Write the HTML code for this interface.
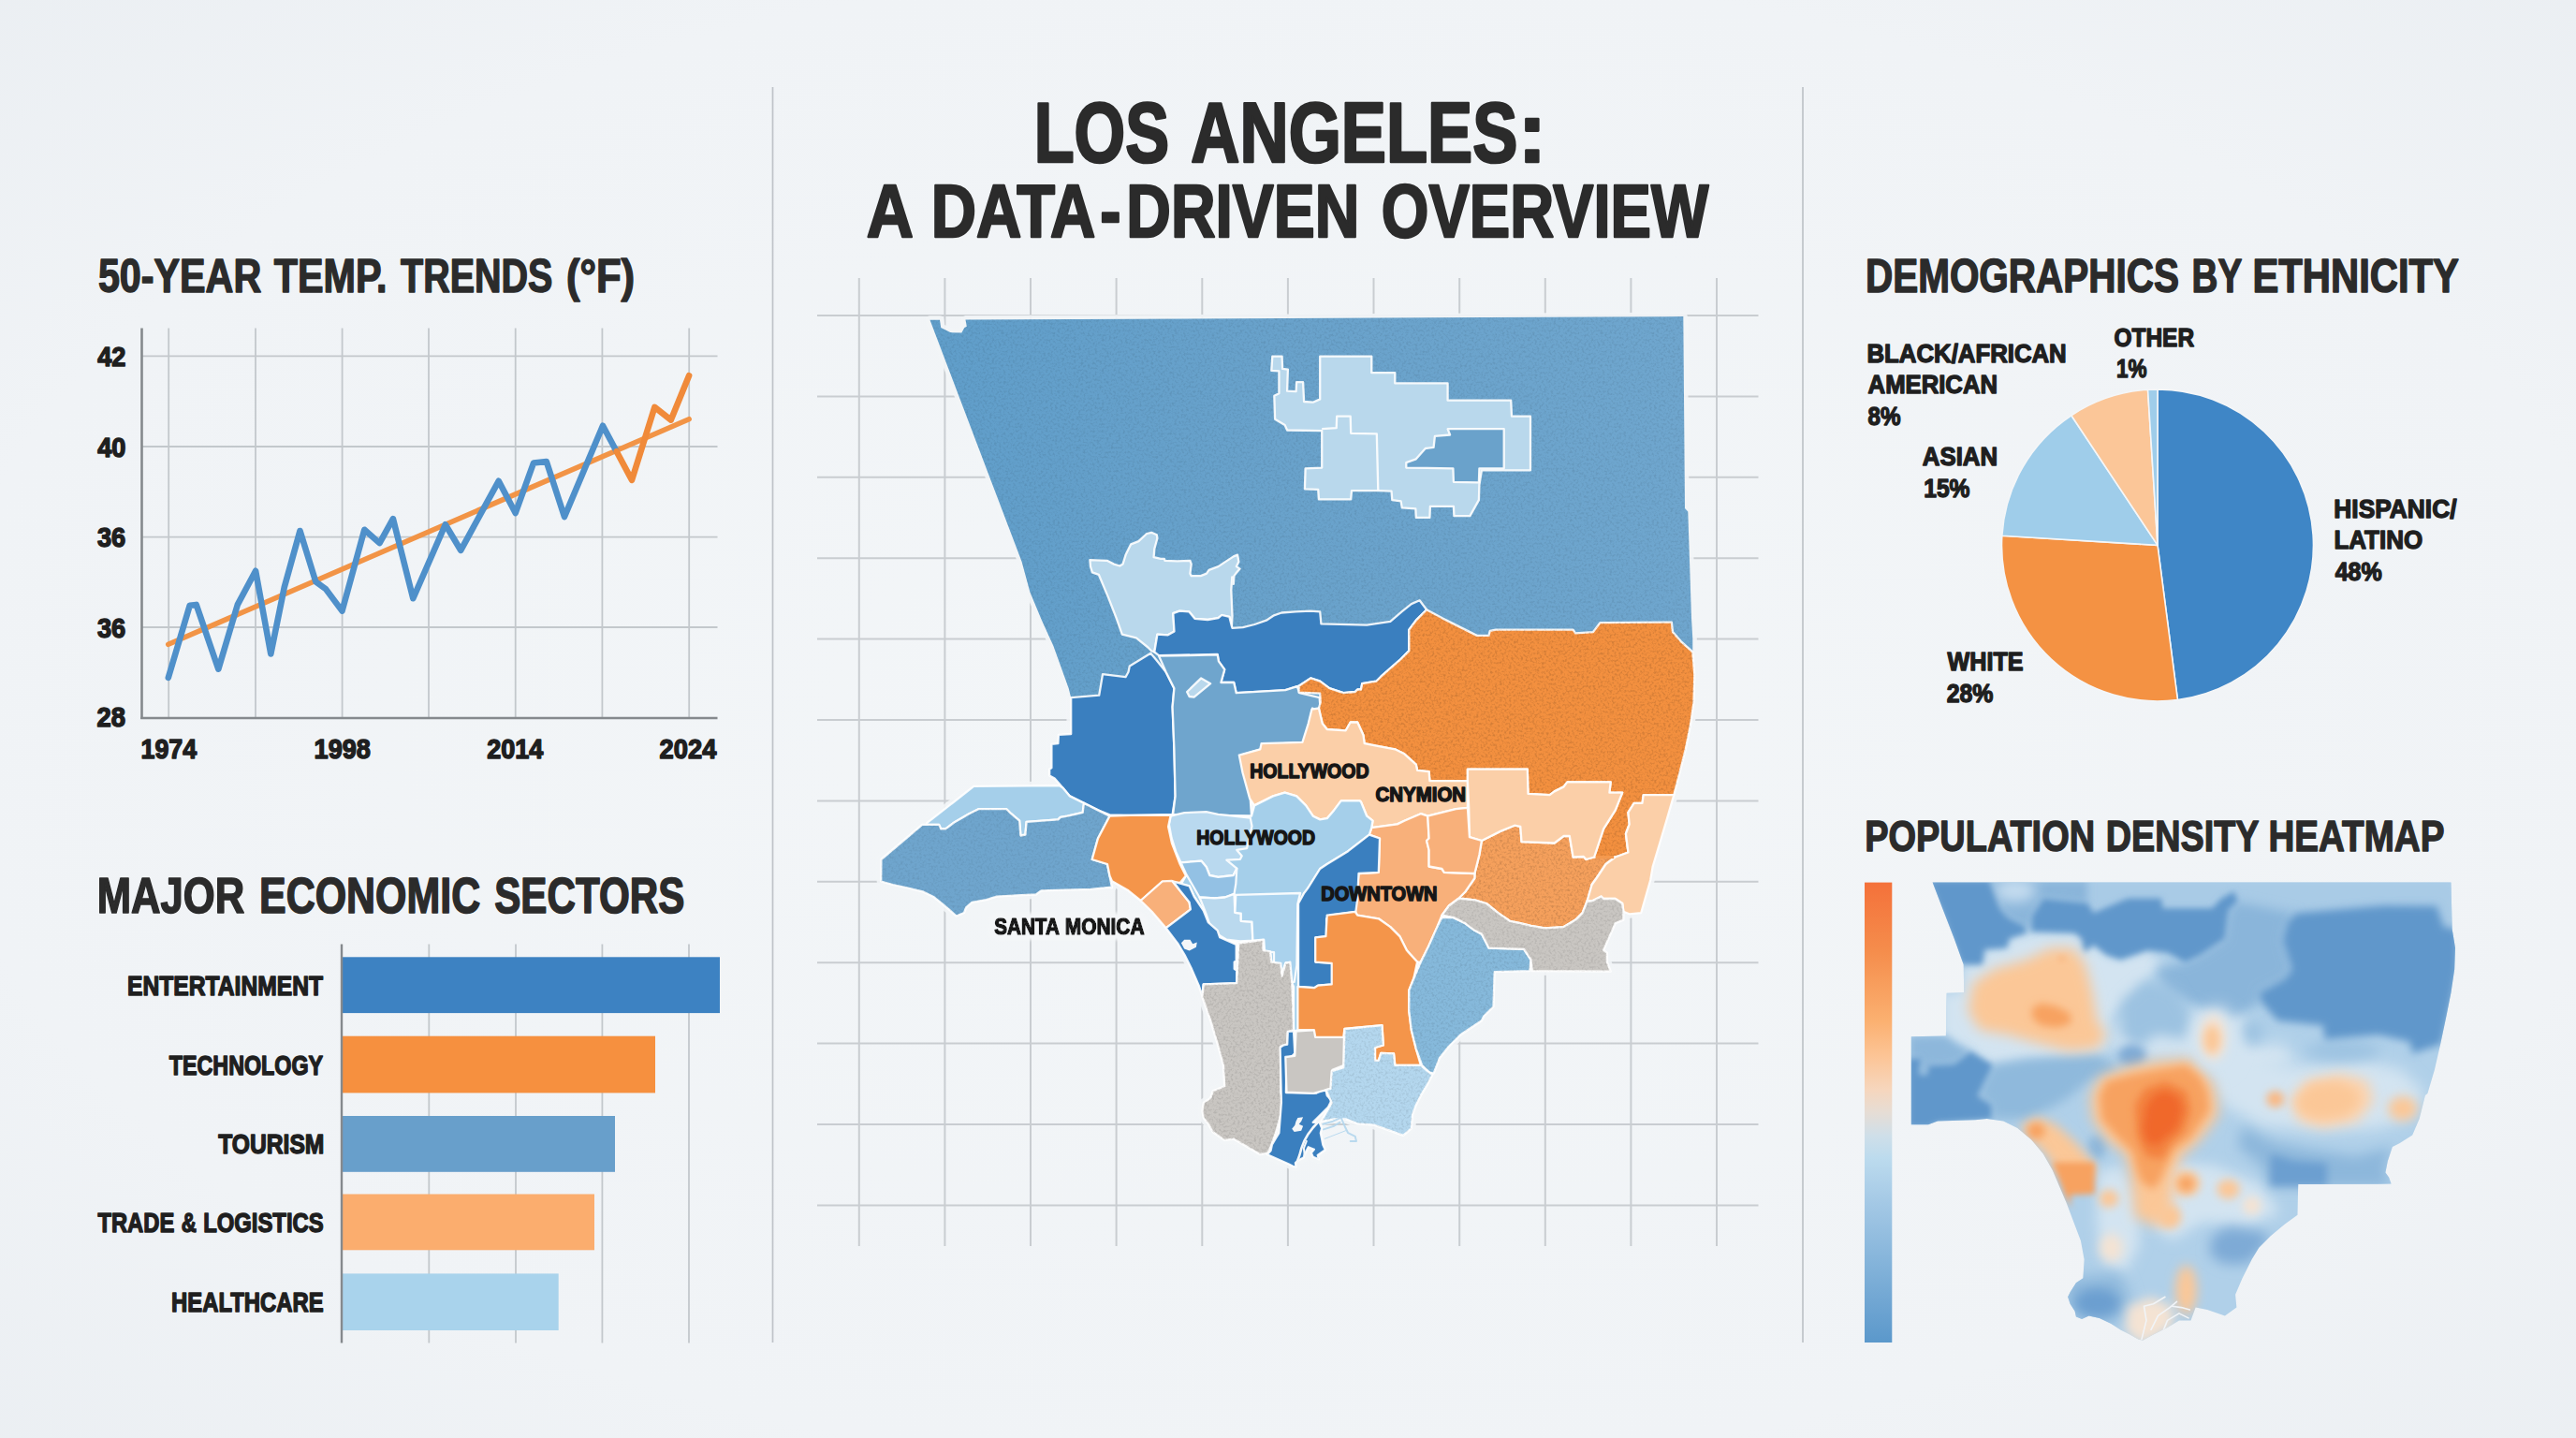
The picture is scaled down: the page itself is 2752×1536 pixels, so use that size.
<!DOCTYPE html>
<html lang="en"><head><meta charset="utf-8"><title>Los Angeles: A Data-Driven Overview</title>
<style>html,body{margin:0;padding:0;background:#f0f3f6;overflow:hidden;}svg{display:block;}text{font-family:'Liberation Sans', 'DejaVu Sans', sans-serif;font-weight:700;font-kerning:normal;}</style></head><body>
<svg width="2752" height="1536" viewBox="0 0 2752 1536">
<defs>
<radialGradient id="bg" cx="50%" cy="50%" r="75%"><stop offset="0" stop-color="#f3f6f8"/><stop offset="0.7" stop-color="#f0f3f6"/><stop offset="1" stop-color="#eaeef2"/></radialGradient>
<linearGradient id="cbar" x1="0" y1="0" x2="0" y2="1"><stop offset="0" stop-color="#f4713a"/><stop offset="0.15" stop-color="#f58d4c"/><stop offset="0.3" stop-color="#fbb070"/><stop offset="0.38" stop-color="#fcc597"/><stop offset="0.45" stop-color="#f6d6bd"/><stop offset="0.5" stop-color="#e6ddd5"/><stop offset="0.55" stop-color="#cfdfe9"/><stop offset="0.6" stop-color="#bcdbee"/><stop offset="0.7" stop-color="#a3c8e5"/><stop offset="0.85" stop-color="#7fb0d8"/><stop offset="1" stop-color="#5b98cb"/></linearGradient>
<clipPath id="hclip"><path d="M2064.6,942.5 L2618.5,942.5 L2619.7,992.6 L2623.0,1012.6 L2622.2,1035.2 L2618.5,1060.2 L2613.5,1085.2 L2607.2,1115.3 L2600.9,1142.8 L2593.4,1167.9 L2590.9,1170.0 L2584.7,1195.0 L2577.2,1212.6 L2563.4,1221.3 L2555.9,1225.1 L2550.9,1240.1 L2548.4,1252.6 L2552.1,1257.6 L2554.6,1264.6 L2455.2,1265.1 L2454.5,1297.7 L2440.7,1307.7 L2425.7,1320.2 L2413.2,1332.8 L2405.6,1345.3 L2395.6,1365.3 L2388.1,1382.8 L2389.4,1396.6 L2376.9,1405.4 L2358.1,1399.1 L2345.6,1396.6 L2340.5,1410.4 L2328.0,1410.4 L2315.5,1417.9 L2300.5,1425.4 L2289.2,1431.7 L2284.2,1430.4 L2275.4,1425.4 L2265.4,1420.4 L2255.4,1414.1 L2242.9,1407.9 L2231.6,1405.4 L2224.1,1409.1 L2217.9,1406.6 L2216.6,1400.4 L2211.6,1392.8 L2209.1,1385.3 L2211.6,1380.3 L2217.9,1370.3 L2225.4,1365.3 L2226.6,1345.3 L2222.9,1325.2 L2215.3,1305.2 L2207.8,1285.2 L2200.3,1267.7 L2192.8,1250.1 L2182.8,1232.6 L2170.3,1217.6 L2155.3,1205.1 L2140.2,1197.5 L2122.7,1195.0 L2110.2,1196.3 L2070.1,1197.5 L2060.1,1201.3 L2041.8,1201.3 L2041.8,1107.3 L2078.9,1106.5 L2079.6,1060.7 L2098.2,1060.2 L2097.7,1030.2 L2087.7,1002.6 L2075.1,970.1Z"/></clipPath>
<filter id="hb3" x="-50%" y="-50%" width="200%" height="200%"><feGaussianBlur stdDeviation="3"/></filter>
<filter id="hb4" x="-50%" y="-50%" width="200%" height="200%"><feGaussianBlur stdDeviation="4"/></filter>
<filter id="hb5" x="-50%" y="-50%" width="200%" height="200%"><feGaussianBlur stdDeviation="5"/></filter>
<filter id="hb6" x="-50%" y="-50%" width="200%" height="200%"><feGaussianBlur stdDeviation="6"/></filter>
<filter id="hb7" x="-50%" y="-50%" width="200%" height="200%"><feGaussianBlur stdDeviation="7"/></filter>
<filter id="hb8" x="-50%" y="-50%" width="200%" height="200%"><feGaussianBlur stdDeviation="8"/></filter>
<filter id="tex" x="0" y="0" width="100%" height="100%" color-interpolation-filters="sRGB"><feTurbulence type="fractalNoise" baseFrequency="0.4" numOctaves="2" seed="7" result="n"/><feColorMatrix in="n" type="matrix" values="0 0 0 0 0  0 0 0 0 0  0 0 0 0 0  3.2 0 0 0 -1.45" result="a"/><feComposite in="a" in2="SourceGraphic" operator="in"/></filter><filter id="halo" x="-10%" y="-40%" width="120%" height="180%"><feMorphology in="SourceAlpha" operator="dilate" radius="3.5" result="d"/><feGaussianBlur in="d" stdDeviation="2" result="b"/><feFlood flood-color="#f4f6f8" result="f"/><feComposite in="f" in2="b" operator="in" result="h"/><feMerge><feMergeNode in="h"/><feMergeNode in="h"/><feMergeNode in="SourceGraphic"/></feMerge></filter><linearGradient id="baseg" gradientUnits="userSpaceOnUse" x1="1000" y1="0" x2="1800" y2="0"><stop offset="0" stop-color="#609eca"/><stop offset="0.45" stop-color="#69a2cb"/><stop offset="1" stop-color="#6fa6ce"/></linearGradient>
</defs>
<rect width="2752" height="1536" fill="url(#bg)"/>
<g stroke="#bfc3c8" stroke-width="1.7">
<line x1="825.5" y1="93" x2="825.5" y2="1434"/>
<line x1="1926" y1="93" x2="1926" y2="1434"/>
</g>
<text y="172.93" font-size="90.93" fill="#2b2b2b" stroke="#2b2b2b" stroke-width="2.74" stroke-linejoin="round"><tspan x="1104.67" textLength="144.30" lengthAdjust="spacingAndGlyphs">LOS</tspan> <tspan x="1272.37" textLength="349.08" lengthAdjust="spacingAndGlyphs">ANGELES</tspan><tspan x="1621.64" textLength="30.22" lengthAdjust="spacingAndGlyphs">:</tspan></text>
<text y="252.99" font-size="79.78" fill="#2b2b2b" stroke="#2b2b2b" stroke-width="2.41" stroke-linejoin="round"><tspan x="925.76" textLength="47.57" lengthAdjust="spacingAndGlyphs">A</tspan> <tspan x="994.74" textLength="175.62" lengthAdjust="spacingAndGlyphs">DATA</tspan><tspan x="1175.19" textLength="22.28" lengthAdjust="spacingAndGlyphs">-</tspan><tspan x="1203.30" textLength="248.94" lengthAdjust="spacingAndGlyphs">DRIVEN</tspan> <tspan x="1475.84" textLength="349.52" lengthAdjust="spacingAndGlyphs">OVERVIEW</tspan></text>
<text y="311.85" font-size="50.13" fill="#2b2b2b" stroke="#2b2b2b" stroke-width="1.51" stroke-linejoin="round"><tspan x="104.89" textLength="174.31" lengthAdjust="spacingAndGlyphs">50-YEAR</tspan> <tspan x="292.69" textLength="120.90" lengthAdjust="spacingAndGlyphs">TEMP.</tspan> <tspan x="428.01" textLength="162.38" lengthAdjust="spacingAndGlyphs">TRENDS</tspan> <tspan x="604.88" textLength="73.24" lengthAdjust="spacingAndGlyphs">(°F)</tspan></text>
<g stroke="#c3c8cc" stroke-width="1.8">
<line x1="180.2" y1="350.5" x2="180.2" y2="766.8"/>
<line x1="273" y1="350.5" x2="273" y2="766.8"/>
<line x1="365.6" y1="350.5" x2="365.6" y2="766.8"/>
<line x1="458" y1="350.5" x2="458" y2="766.8"/>
<line x1="550.7" y1="350.5" x2="550.7" y2="766.8"/>
<line x1="643.4" y1="350.5" x2="643.4" y2="766.8"/>
<line x1="736.2" y1="350.5" x2="736.2" y2="766.8"/>
<line x1="151.5" y1="380.4" x2="766.5" y2="380.4"/>
<line x1="151.5" y1="477" x2="766.5" y2="477"/>
<line x1="151.5" y1="573.6" x2="766.5" y2="573.6"/>
<line x1="151.5" y1="670" x2="766.5" y2="670"/>
</g>
<g stroke="#85898d" stroke-width="2.6">
<line x1="151.5" y1="350.5" x2="151.5" y2="768"/>
<line x1="150.2" y1="767" x2="766.5" y2="767"/>
</g>
<text x="104.14" y="390.85" font-size="29.80" textLength="30.20" lengthAdjust="spacingAndGlyphs" fill="#1f1f1f" stroke="#1f1f1f" stroke-width="1.5" stroke-linejoin="round" >42</text>
<text x="104.14" y="487.65" font-size="29.80" textLength="30.23" lengthAdjust="spacingAndGlyphs" fill="#1f1f1f" stroke="#1f1f1f" stroke-width="1.5" stroke-linejoin="round" >40</text>
<text x="103.92" y="584.05" font-size="29.80" textLength="30.31" lengthAdjust="spacingAndGlyphs" fill="#1f1f1f" stroke="#1f1f1f" stroke-width="1.5" stroke-linejoin="round" >36</text>
<text x="103.92" y="681.25" font-size="29.80" textLength="30.31" lengthAdjust="spacingAndGlyphs" fill="#1f1f1f" stroke="#1f1f1f" stroke-width="1.5" stroke-linejoin="round" >36</text>
<text x="103.60" y="776.25" font-size="29.80" textLength="30.49" lengthAdjust="spacingAndGlyphs" fill="#1f1f1f" stroke="#1f1f1f" stroke-width="1.5" stroke-linejoin="round" >28</text>
<text x="150.54" y="810.27" font-size="29.13" textLength="59.67" lengthAdjust="spacingAndGlyphs" fill="#1f1f1f" stroke="#1f1f1f" stroke-width="1.46" stroke-linejoin="round" >1974</text>
<text x="335.62" y="810.27" font-size="29.13" textLength="60.28" lengthAdjust="spacingAndGlyphs" fill="#1f1f1f" stroke="#1f1f1f" stroke-width="1.46" stroke-linejoin="round" >1998</text>
<text x="520.19" y="810.27" font-size="29.13" textLength="60.22" lengthAdjust="spacingAndGlyphs" fill="#1f1f1f" stroke="#1f1f1f" stroke-width="1.46" stroke-linejoin="round" >2014</text>
<text x="704.58" y="810.27" font-size="29.13" textLength="60.83" lengthAdjust="spacingAndGlyphs" fill="#1f1f1f" stroke="#1f1f1f" stroke-width="1.46" stroke-linejoin="round" >2024</text>
<line x1="179.8" y1="688.3" x2="736.1" y2="447.7" stroke="#f29446" stroke-width="5.6" stroke-linecap="round"/>
<polyline fill="none" stroke="#4f90ca" stroke-width="6.6" stroke-linejoin="round" stroke-linecap="round" points="179.8,723.9 202.7,646.8 209.7,645.9 233.3,714.7 253.8,645.9 273.1,609.8 289.3,698.5 303.7,627.5 320.5,567 337.3,621.4 348,629.1 365.5,652.6 389.3,565.8 405.5,580.1 419.9,554.1 441.3,639.2 475.8,560.3 492.2,587.8 532.7,513.8 550.7,548 570,494.5 583.8,493 603,552 644,454.7 658.7,482.2"/>
<polyline fill="none" stroke="#f08a3a" stroke-width="6.6" stroke-linejoin="round" stroke-linecap="round" points="658.7,482.2 675,512.8 699.4,434.8 716.8,448.6 736.1,401.2"/>
<text y="974.50" font-size="52.91" fill="#2b2b2b" stroke="#2b2b2b" stroke-width="1.6" stroke-linejoin="round"><tspan x="103.78" textLength="157.51" lengthAdjust="spacingAndGlyphs">MAJOR</tspan> <tspan x="277.03" textLength="236.15" lengthAdjust="spacingAndGlyphs">ECONOMIC</tspan> <tspan x="528.18" textLength="203.16" lengthAdjust="spacingAndGlyphs">SECTORS</tspan></text>
<g stroke="#c3c8cc" stroke-width="1.8">
<line x1="458.3" y1="1008.6" x2="458.3" y2="1434.5"/>
<line x1="551" y1="1008.6" x2="551" y2="1434.5"/>
<line x1="643.4" y1="1008.6" x2="643.4" y2="1434.5"/>
<line x1="736" y1="1008.6" x2="736" y2="1434.5"/>
</g>
<rect x="366" y="1022.3" width="403.0" height="59.8" fill="#3d82c2"/>
<text x="136.00" y="1063.25" font-size="29.80" textLength="209.01" lengthAdjust="spacingAndGlyphs" fill="#1f1f1f" stroke="#1f1f1f" stroke-width="1.5" stroke-linejoin="round" >ENTERTAINMENT</text>
<rect x="366" y="1106.7" width="334.0" height="60.7" fill="#f6903f"/>
<text x="180.69" y="1147.55" font-size="29.80" textLength="164.44" lengthAdjust="spacingAndGlyphs" fill="#1f1f1f" stroke="#1f1f1f" stroke-width="1.5" stroke-linejoin="round" >TECHNOLOGY</text>
<rect x="366" y="1192" width="291.0" height="59.8" fill="#689fcb"/>
<text x="233.17" y="1231.95" font-size="29.80" textLength="113.23" lengthAdjust="spacingAndGlyphs" fill="#1f1f1f" stroke="#1f1f1f" stroke-width="1.5" stroke-linejoin="round" >TOURISM</text>
<rect x="366" y="1275.5" width="269.0" height="59.8" fill="#fbad6e"/>
<text y="1316.25" font-size="29.80" fill="#1f1f1f" stroke="#1f1f1f" stroke-width="1.5" stroke-linejoin="round"><tspan x="104.48" textLength="81.79" lengthAdjust="spacingAndGlyphs">TRADE</tspan> <tspan x="193.67" textLength="16.19" lengthAdjust="spacingAndGlyphs">&amp;</tspan> <tspan x="217.15" textLength="128.53" lengthAdjust="spacingAndGlyphs">LOGISTICS</tspan></text>
<rect x="366" y="1360.4" width="230.7" height="60.6" fill="#a9d3ec"/>
<text x="183.05" y="1400.75" font-size="29.80" textLength="162.63" lengthAdjust="spacingAndGlyphs" fill="#1f1f1f" stroke="#1f1f1f" stroke-width="1.5" stroke-linejoin="round" >HEALTHCARE</text>
<line x1="365" y1="1008.6" x2="365" y2="1434.5" stroke="#85898d" stroke-width="2.4"/>
<text y="311.75" font-size="49.86" fill="#2b2b2b" stroke="#2b2b2b" stroke-width="1.5" stroke-linejoin="round"><tspan x="1992.94" textLength="335.09" lengthAdjust="spacingAndGlyphs">DEMOGRAPHICS</tspan> <tspan x="2341.50" textLength="52.96" lengthAdjust="spacingAndGlyphs">BY</tspan> <tspan x="2406.46" textLength="220.47" lengthAdjust="spacingAndGlyphs">ETHNICITY</tspan></text>
<path d="M2305,582.4 L2305.00,415.90 A166.5,166.5 0 0 1 2326.44,747.51 Z" fill="#3f86c6" stroke="#f4f6f8" stroke-width="1.6" stroke-linejoin="round"/>
<path d="M2305,582.4 L2326.44,747.51 A166.5,166.5 0 0 1 2138.81,572.24 Z" fill="#f49243" stroke="#f4f6f8" stroke-width="1.6" stroke-linejoin="round"/>
<path d="M2305,582.4 L2138.81,572.24 A166.5,166.5 0 0 1 2212.86,443.72 Z" fill="#9fcdea" stroke="#f4f6f8" stroke-width="1.6" stroke-linejoin="round"/>
<path d="M2305,582.4 L2212.86,443.72 A166.5,166.5 0 0 1 2294.55,416.23 Z" fill="#fbc698" stroke="#f4f6f8" stroke-width="1.6" stroke-linejoin="round"/>
<path d="M2305,582.4 L2294.55,416.23 A166.5,166.5 0 0 1 2305.00,415.90 Z" fill="#9fcdea" stroke="#f4f6f8" stroke-width="1.6" stroke-linejoin="round"/>
<text x="1994.49" y="387.19" font-size="28.45" textLength="213.23" lengthAdjust="spacingAndGlyphs" fill="#1f1f1f" stroke="#1f1f1f" stroke-width="1.43" stroke-linejoin="round" >BLACK/AFRICAN</text>
<text x="1995.58" y="419.99" font-size="28.45" textLength="138.44" lengthAdjust="spacingAndGlyphs" fill="#1f1f1f" stroke="#1f1f1f" stroke-width="1.43" stroke-linejoin="round" >AMERICAN</text>
<text x="1995.43" y="453.91" font-size="27.78" textLength="35.02" lengthAdjust="spacingAndGlyphs" fill="#1f1f1f" stroke="#1f1f1f" stroke-width="1.39" stroke-linejoin="round" >8%</text>
<text x="2258.39" y="370.31" font-size="27.78" textLength="85.72" lengthAdjust="spacingAndGlyphs" fill="#1f1f1f" stroke="#1f1f1f" stroke-width="1.39" stroke-linejoin="round" >OTHER</text>
<text x="2261.08" y="402.61" font-size="27.78" textLength="32.52" lengthAdjust="spacingAndGlyphs" fill="#1f1f1f" stroke="#1f1f1f" stroke-width="1.39" stroke-linejoin="round" >1%</text>
<text x="2053.87" y="497.29" font-size="28.45" textLength="80.15" lengthAdjust="spacingAndGlyphs" fill="#1f1f1f" stroke="#1f1f1f" stroke-width="1.43" stroke-linejoin="round" >ASIAN</text>
<text x="2055.25" y="530.70" font-size="27.78" textLength="49.21" lengthAdjust="spacingAndGlyphs" fill="#1f1f1f" stroke="#1f1f1f" stroke-width="1.39" stroke-linejoin="round" >15%</text>
<text x="2493.35" y="553.28" font-size="28.45" textLength="131.19" lengthAdjust="spacingAndGlyphs" fill="#1f1f1f" stroke="#1f1f1f" stroke-width="1.43" stroke-linejoin="round" >HISPANIC/</text>
<text x="2493.38" y="585.99" font-size="28.45" textLength="94.80" lengthAdjust="spacingAndGlyphs" fill="#1f1f1f" stroke="#1f1f1f" stroke-width="1.43" stroke-linejoin="round" >LATINO</text>
<text x="2494.72" y="619.50" font-size="27.78" textLength="50.05" lengthAdjust="spacingAndGlyphs" fill="#1f1f1f" stroke="#1f1f1f" stroke-width="1.39" stroke-linejoin="round" >48%</text>
<text x="2080.49" y="715.88" font-size="28.45" textLength="81.08" lengthAdjust="spacingAndGlyphs" fill="#1f1f1f" stroke="#1f1f1f" stroke-width="1.43" stroke-linejoin="round" >WHITE</text>
<text x="2079.63" y="750.10" font-size="27.78" textLength="49.73" lengthAdjust="spacingAndGlyphs" fill="#1f1f1f" stroke="#1f1f1f" stroke-width="1.39" stroke-linejoin="round" >28%</text>
<text y="909.19" font-size="47.06" fill="#2b2b2b" stroke="#2b2b2b" stroke-width="1.42" stroke-linejoin="round"><tspan x="1992.27" textLength="245.77" lengthAdjust="spacingAndGlyphs">POPULATION</tspan> <tspan x="2249.79" textLength="163.10" lengthAdjust="spacingAndGlyphs">DENSITY</tspan> <tspan x="2423.43" textLength="187.98" lengthAdjust="spacingAndGlyphs">HEATMAP</tspan></text>
<rect x="1992" y="942.6" width="29.3" height="491.4" fill="url(#cbar)"/>
<g clip-path="url(#hclip)">
<rect x="2030" y="930" width="620" height="520" fill="#b0d0e9"/>
<path d="M2230.4,940.0 L2621.0,940.0 L2623.5,995.1 L2611.0,990.1 L2603.5,967.6 L2545.9,967.1 L2453.2,975.1 L2390.6,962.6 L2386.9,952.0 L2373.1,959.5 L2363.1,970.1 L2310.5,970.1 L2309.2,959.5 L2272.9,959.5 L2236.6,975.1 L2230.4,964.6Z" fill="#a9cbe6" filter="url(#hb4)"/>
<path d="M2097.7,1030.2 L2117.7,1030.2 L2120.2,1013.9 L2144.0,1012.6 L2146.5,1002.6 L2165.3,996.4 L2216.6,996.4 L2224.1,1002.6 L2226.6,1017.6 L2236.6,1008.9 L2250.4,1020.1 L2265.4,1025.1 L2294.2,1015.1 L2310.5,1030.2 L2303.0,1035.2 L2277.9,1070.2 L2255.4,1085.2 L2252.9,1117.8 L2240.4,1127.8 L2165.3,1132.8 L2129.0,1137.8 L2105.2,1122.8 L2090.2,1115.3 L2075.1,1106.5 L2075.1,1060.7 L2095.2,1060.2Z" fill="#d3e4f1" filter="url(#hb6)"/>
<path d="M2252.9,1117.8 L2260.4,1090.2 L2290.5,1080.2 L2323.0,1090.2 L2345.6,1080.2 L2380.6,1070.2 L2400.6,1090.2 L2405.6,1115.3 L2440.7,1115.3 L2453.2,1135.3 L2415.7,1145.3 L2380.6,1180.4 L2365.6,1150.3 L2335.5,1130.3 L2290.5,1130.3Z" fill="#d3e4f1" filter="url(#hb8)"/>
<path d="M2365.6,1155.3 L2380.6,1135.3 L2415.7,1130.3 L2440.7,1137.8 L2478.3,1137.8 L2528.3,1132.8 L2565.9,1142.8 L2590.9,1167.9 L2578.4,1192.9 L2540.9,1205.4 L2478.3,1207.9 L2415.7,1202.9 L2380.6,1182.9Z" fill="#d3e4f1" filter="url(#hb8)"/>
<ellipse cx="2503.3" cy="1122.8" rx="40.1" ry="10.0" fill="#9cc2e1" filter="url(#hb7)"/>
<ellipse cx="2405.6" cy="1102.8" rx="12.5" ry="12.5" fill="#9cc2e1" filter="url(#hb7)"/>
<path d="M2240.4,1252.6 L2265.4,1245.1 L2285.5,1275.2 L2285.5,1330.2 L2270.4,1360.3 L2250.4,1350.3 L2240.4,1310.2Z" fill="#d3e4f1" filter="url(#hb7)"/>
<path d="M2315.5,1240.1 L2365.6,1245.1 L2415.7,1265.1 L2435.7,1295.2 L2400.6,1310.2 L2353.1,1305.2 L2320.5,1325.2 L2300.5,1310.2 L2305.5,1270.2Z" fill="#d3e4f1" filter="url(#hb7)"/>
<ellipse cx="2152.8" cy="952.5" rx="25.0" ry="13.8" fill="#d3e4f1" filter="url(#hb6)"/>
<path d="M2125.2,940.0 L2230.4,940.0 L2230.4,964.6 L2182.8,959.5 L2170.3,978.8 L2170.3,995.1 L2162.8,988.8 L2145.2,980.1 L2136.5,970.1Z" fill="#8ab5da" filter="url(#hb4)"/>
<ellipse cx="2152.8" cy="951.3" rx="22.5" ry="12.5" fill="#c4dcef" filter="url(#hb7)"/>
<path d="M2390.6,962.6 L2453.2,975.1 L2443.2,985.1 L2438.2,1005.1 L2448.2,1035.2 L2440.7,1045.2 L2413.2,1060.2 L2415.7,1070.2 L2380.6,1090.2 L2340.5,1070.2 L2315.5,1060.2 L2303.0,1035.2 L2334.3,1027.7 L2350.6,1020.1 L2376.9,1002.6 L2380.6,972.6Z" fill="#8ab5da" filter="url(#hb6)"/>
<path d="M2129.0,1137.8 L2165.3,1131.6 L2240.4,1126.6 L2265.4,1142.8 L2230.4,1155.3 L2205.3,1175.4 L2165.3,1195.4 L2127.7,1195.4 L2127.7,1180.4 L2112.7,1170.4Z" fill="#8fb9dc" filter="url(#hb6)"/>
<path d="M2040.1,1107.3 L2078.9,1106.5 L2090.2,1115.3 L2105.2,1122.8 L2087.7,1136.6 L2060.1,1137.8 L2058.9,1147.8 L2050.1,1147.8 L2052.6,1130.3 L2040.1,1130.3Z" fill="#8db7db" filter="url(#hb4)"/>
<path d="M2265.4,1070.2 L2290.5,1047.7 L2323.0,1055.2 L2340.5,1085.2 L2335.5,1110.3 L2303.0,1105.3 L2285.5,1120.3 L2265.4,1105.3Z" fill="#9cc2e1" filter="url(#hb7)"/>
<ellipse cx="2277.9" cy="1127.8" rx="15.0" ry="12.0" fill="#7eaad6" filter="url(#hb5)"/>
<ellipse cx="2240.4" cy="1225.1" rx="10.0" ry="12.5" fill="#8db7db" filter="url(#hb5)"/>
<path d="M2395.6,1202.6 L2428.2,1220.1 L2465.7,1227.6 L2515.8,1235.1 L2555.9,1225.1 L2550.9,1240.1 L2548.4,1252.6 L2555.9,1267.7 L2425.7,1267.7 L2415.7,1245.1 L2390.6,1225.1Z" fill="#8db7db" filter="url(#hb7)"/>
<path d="M2363.1,1320.2 L2380.6,1310.2 L2415.7,1315.2 L2425.7,1322.7 L2415.7,1335.3 L2400.6,1350.3 L2375.6,1350.3 L2360.6,1340.3Z" fill="#7eaad6" filter="url(#hb7)"/>
<path d="M2210.3,1365.3 L2265.4,1360.3 L2277.9,1395.3 L2255.4,1415.4 L2215.3,1407.9 L2205.3,1385.3Z" fill="#8db7db" filter="url(#hb8)"/>
<path d="M2060.1,940.0 L2125.2,940.0 L2136.5,970.1 L2145.2,980.1 L2162.8,988.8 L2165.3,996.4 L2146.5,1002.6 L2144.0,1012.6 L2120.2,1013.9 L2117.7,1030.2 L2095.2,1030.2 L2085.1,1002.6 L2072.6,970.1Z" fill="#6197cb" filter="url(#hb3)"/>
<path d="M2170.3,978.8 L2182.8,959.5 L2230.4,964.6 L2236.6,975.1 L2272.9,959.5 L2309.2,959.5 L2310.5,970.1 L2363.1,970.1 L2373.1,959.5 L2386.9,952.0 L2390.6,962.6 L2380.6,972.6 L2376.9,1002.6 L2350.6,1020.1 L2334.3,1027.7 L2315.5,1017.6 L2294.2,1015.1 L2265.4,1025.1 L2250.4,1020.1 L2236.6,1008.9 L2226.6,1017.6 L2224.1,1002.6 L2216.6,996.4 L2170.3,995.1Z" fill="#6197cb" filter="url(#hb3)"/>
<path d="M2453.2,975.1 L2545.9,967.1 L2603.5,967.6 L2611.0,990.1 L2626.0,992.6 L2626.0,1035.2 L2616.0,1085.2 L2608.5,1115.3 L2577.2,1125.3 L2574.7,1112.8 L2540.9,1105.3 L2483.3,1110.3 L2482.0,1095.3 L2433.2,1090.2 L2415.7,1070.2 L2413.2,1060.2 L2440.7,1045.2 L2448.2,1035.2 L2438.2,1005.1 L2443.2,985.1Z" fill="#6197cb" filter="url(#hb4)"/>
<path d="M2038.8,1130.3 L2052.6,1130.3 L2050.1,1147.8 L2058.9,1147.8 L2060.1,1137.8 L2087.7,1136.6 L2105.2,1122.8 L2129.0,1137.8 L2112.7,1170.4 L2127.7,1180.4 L2127.7,1195.4 L2070.1,1199.2 L2060.1,1204.2 L2038.8,1204.2Z" fill="#6197cb" filter="url(#hb3)"/>
<ellipse cx="2240.4" cy="1391.6" rx="23.8" ry="15.0" fill="#6c9fd0" filter="url(#hb6)"/>
<path d="M2425.7,1232.6 L2450.7,1240.1 L2485.8,1242.6 L2485.8,1266.4 L2425.7,1266.4Z" fill="#6c9fd0" filter="url(#hb4)"/>
<path d="M2107.7,1050.2 L2130.2,1035.2 L2165.3,1025.1 L2190.3,1012.6 L2215.3,1012.6 L2227.9,1030.2 L2235.4,1060.2 L2240.4,1090.2 L2250.4,1105.3 L2240.4,1120.3 L2210.3,1122.8 L2180.3,1115.3 L2145.2,1105.3 L2115.2,1100.3 L2102.7,1080.2Z" fill="#fbc797" filter="url(#hb7)"/>
<path d="M2232.9,1170.4 L2242.9,1150.3 L2277.9,1137.8 L2305.5,1132.8 L2340.5,1130.3 L2360.6,1147.8 L2368.1,1167.9 L2370.6,1190.4 L2358.1,1207.9 L2345.6,1223.0 L2330.5,1235.5 L2323.0,1255.5 L2320.5,1280.5 L2323.0,1300.2 L2303.0,1310.2 L2280.5,1300.2 L2277.9,1275.2 L2275.4,1253.0 L2270.4,1233.0 L2250.4,1217.9 L2235.4,1195.4Z" fill="#fbc797" filter="url(#hb7)"/>
<path d="M2157.8,1202.9 L2175.3,1192.9 L2195.3,1200.4 L2215.3,1217.9 L2235.4,1240.5 L2237.9,1255.5 L2200.3,1255.5 L2185.3,1233.0 L2170.3,1217.9Z" fill="#fbc797" filter="url(#hb6)"/>
<path d="M2445.7,1175.9 L2464.0,1154.1 L2500.0,1146.8 L2529.1,1154.1 L2536.1,1175.9 L2518.1,1197.7 L2482.0,1204.7 L2456.7,1197.7Z" fill="#fcd3ad" filter="url(#hb7)"/>
<path d="M2453.2,1174.1 L2468.2,1159.1 L2495.8,1155.3 L2515.8,1162.9 L2520.8,1177.9 L2505.8,1191.7 L2478.3,1195.4 L2458.2,1189.2Z" fill="#fbc797" filter="url(#hb6)"/>
<ellipse cx="2566.9" cy="1184.1" rx="15.5" ry="13.0" fill="#fbc797" filter="url(#hb6)"/>
<ellipse cx="2368.1" cy="1110.8" rx="23.8" ry="36.3" fill="#d3e4f1" filter="url(#hb8)"/>
<ellipse cx="2364.3" cy="1107.8" rx="13.8" ry="25.0" fill="#f4e3d3" filter="url(#hb6)"/>
<ellipse cx="2363.1" cy="1110.3" rx="8.8" ry="15.0" fill="#fbc797" filter="url(#hb5)"/>
<ellipse cx="2380.6" cy="1270.2" rx="12.0" ry="10.5" fill="#fbc797" filter="url(#hb5)"/>
<ellipse cx="2405.6" cy="1287.7" rx="10.0" ry="10.0" fill="#f4e3d3" filter="url(#hb5)"/>
<ellipse cx="2318.0" cy="1300.2" rx="12.0" ry="12.0" fill="#fbc797" filter="url(#hb5)"/>
<ellipse cx="2252.9" cy="1280.2" rx="10.5" ry="9.5" fill="#fbc797" filter="url(#hb5)"/>
<ellipse cx="2335.5" cy="1263.9" rx="15.0" ry="13.8" fill="#fbc797" filter="url(#hb5)"/>
<ellipse cx="2335.5" cy="1377.8" rx="11.3" ry="26.3" fill="#fbc797" filter="url(#hb6)"/>
<path d="M2272.9,1395.3 L2298.0,1385.3 L2320.5,1395.3 L2323.0,1415.4 L2300.5,1430.4 L2285.5,1435.4 L2270.4,1420.4Z" fill="#f4e3d3" filter="url(#hb6)"/>
<ellipse cx="2255.4" cy="1332.8" rx="12.5" ry="15.0" fill="#f4e3d3" filter="url(#hb6)"/>
<path d="M2170.3,1077.7 L2180.3,1071.5 L2197.8,1075.2 L2211.6,1082.7 L2212.8,1092.8 L2197.8,1097.8 L2180.3,1095.3 L2171.5,1087.7Z" fill="#f7a261" filter="url(#hb4)"/>
<ellipse cx="2202.8" cy="1023.9" rx="4.0" ry="3.3" fill="#f9b985" filter="url(#hb3)"/>
<path d="M2242.9,1170.4 L2250.4,1155.3 L2277.9,1147.8 L2303.0,1142.8 L2335.5,1137.8 L2350.6,1150.3 L2358.1,1165.4 L2360.6,1185.4 L2350.6,1200.4 L2340.5,1215.4 L2323.0,1228.0 L2315.5,1243.0 L2308.0,1260.5 L2300.5,1270.5 L2288.0,1263.0 L2283.0,1250.5 L2277.9,1230.5 L2260.4,1212.9 L2245.4,1195.4Z" fill="#f7a261" filter="url(#hb5)"/>
<ellipse cx="2175.3" cy="1207.9" rx="9.5" ry="8.5" fill="#f7a261" filter="url(#hb4)"/>
<path d="M2192.8,1241.4 L2237.9,1241.4 L2237.9,1275.2 L2211.6,1276.4 L2212.8,1290.2 L2205.3,1275.2 L2199.1,1257.6Z" fill="#f7a261" filter="url(#hb3)"/>
<ellipse cx="2335.5" cy="1264.6" rx="8.0" ry="7.5" fill="#f7a261" filter="url(#hb4)"/>
<ellipse cx="2430.7" cy="1174.1" rx="9.5" ry="9.0" fill="#f9b985" filter="url(#hb4)"/>
<path d="M2280.5,1180.4 L2290.5,1162.9 L2313.0,1155.3 L2335.5,1165.4 L2340.5,1185.4 L2333.0,1207.9 L2318.0,1223.0 L2310.5,1238.0 L2293.0,1235.5 L2283.0,1212.9Z" fill="#f3823f" filter="url(#hb4)"/>
<path d="M2293.0,1180.4 L2303.0,1167.9 L2315.5,1165.4 L2328.0,1172.9 L2331.8,1185.4 L2325.5,1205.4 L2313.0,1215.4 L2305.5,1223.0 L2293.0,1220.5 L2289.2,1205.4Z" fill="#f0672a" filter="url(#hb4)"/>
<polyline fill="none" stroke="#f1f4f7" stroke-width="1.6" stroke-linecap="round" stroke-linejoin="round" points="2288.0,1430.4 2293.0,1410.4 2290.5,1395.3 2300.5,1392.8 2313.0,1385.3"/>
<polyline fill="none" stroke="#f1f4f7" stroke-width="1.6" stroke-linecap="round" stroke-linejoin="round" points="2298.0,1420.4 2305.5,1405.4 2318.0,1396.6 2325.5,1390.3"/>
<polyline fill="none" stroke="#f1f4f7" stroke-width="1.6" stroke-linecap="round" stroke-linejoin="round" points="2310.5,1422.9 2315.5,1410.4 2328.0,1402.9 2338.0,1407.9"/>
<polyline fill="none" stroke="#f1f4f7" stroke-width="1.6" stroke-linecap="round" stroke-linejoin="round" points="2320.5,1395.3 2330.5,1396.6 2339.3,1399.1"/>
</g>
<g stroke="#c9cdd1" stroke-width="2">
<line x1="917.8" y1="297" x2="917.8" y2="1331"/>
<line x1="1009.4" y1="297" x2="1009.4" y2="1331"/>
<line x1="1101.0" y1="297" x2="1101.0" y2="1331"/>
<line x1="1192.6" y1="297" x2="1192.6" y2="1331"/>
<line x1="1284.3" y1="297" x2="1284.3" y2="1331"/>
<line x1="1375.9" y1="297" x2="1375.9" y2="1331"/>
<line x1="1467.5" y1="297" x2="1467.5" y2="1331"/>
<line x1="1559.2" y1="297" x2="1559.2" y2="1331"/>
<line x1="1650.8" y1="297" x2="1650.8" y2="1331"/>
<line x1="1742.4" y1="297" x2="1742.4" y2="1331"/>
<line x1="1834.0" y1="297" x2="1834.0" y2="1331"/>
<line x1="873" y1="337.0" x2="1878.5" y2="337.0"/>
<line x1="873" y1="423.4" x2="1878.5" y2="423.4"/>
<line x1="873" y1="509.8" x2="1878.5" y2="509.8"/>
<line x1="873" y1="596.2" x2="1878.5" y2="596.2"/>
<line x1="873" y1="682.6" x2="1878.5" y2="682.6"/>
<line x1="873" y1="769.0" x2="1878.5" y2="769.0"/>
<line x1="873" y1="855.4" x2="1878.5" y2="855.4"/>
<line x1="873" y1="941.8" x2="1878.5" y2="941.8"/>
<line x1="873" y1="1028.2" x2="1878.5" y2="1028.2"/>
<line x1="873" y1="1114.6" x2="1878.5" y2="1114.6"/>
<line x1="873" y1="1201.0" x2="1878.5" y2="1201.0"/>
<line x1="873" y1="1287.4" x2="1878.5" y2="1287.4"/>
</g>
<g fill="#f3f6f8" stroke="#f3f6f8" stroke-width="9" stroke-linejoin="round" opacity="0.9">
<path d="M993.5,341.8 L1004.0,341.8 L1005.2,350.1 L1015.2,355.1 L1027.3,355.6 L1030.3,350.1 L1032.8,348.8 L1031.5,341.6 L1798.3,338.1 L1800.0,542.9 L1803.3,546.6 L1807.0,660.1 L1808.3,682.6 L1808.3,697.7 L1805.8,775.3 L1144.2,775.3 L1144.2,745.2 L1141.7,735.2 L1135.4,717.7 L1125.4,690.1 L1112.9,662.6 L1100.4,632.6 L1091.6,600.0Z"/>
<path d="M1164.4,598.2 L1182.6,598.8 L1190.1,602.6 L1196.3,604.5 L1199.5,602.6 L1202.6,592.6 L1208.2,581.3 L1216.4,578.2 L1225.1,570.0 L1230.1,568.8 L1235.8,571.3 L1236.4,575.0 L1233.3,586.3 L1232.6,595.1 L1240.1,596.9 L1243.9,596.9 L1244.5,598.8 L1257.7,599.4 L1271.4,598.8 L1272.7,602.6 L1271.4,612.6 L1272.7,615.1 L1282.7,615.1 L1289.0,612.6 L1291.5,608.8 L1301.5,605.1 L1309.0,600.1 L1317.8,594.4 L1322.1,592.6 L1323.4,600.1 L1320.9,605.1 L1324.6,607.6 L1320.3,612.6 L1318.4,615.1 L1317.8,623.9 L1316.3,616.3 L1315.3,630.1 L1316.5,657.7 L1315.9,668.9 L1313.4,658.9 L1305.2,657.0 L1301.5,660.2 L1290.2,662.0 L1276.4,660.8 L1270.2,653.3 L1260.2,652.6 L1253.3,655.2 L1254.5,674.6 L1247.7,678.3 L1236.4,677.7 L1233.3,696.5 L1230.1,695.2 L1226.4,691.5 L1213.9,681.4 L1198.8,677.7 L1192.6,660.2 L1183.8,637.6 L1173.8,613.8 L1166.9,611.3 L1165.0,605.1Z"/>
<path d="M1233.3,696.5 L1236.4,677.7 L1247.7,678.3 L1254.5,674.6 L1253.3,655.2 L1260.2,652.6 L1270.2,653.3 L1276.4,660.8 L1290.2,662.0 L1301.5,660.2 L1305.2,657.0 L1313.4,658.9 L1315.9,668.9 L1316.5,670.8 L1327.8,670.2 L1340.3,667.0 L1352.8,662.7 L1360.3,657.7 L1369.1,654.5 L1384.1,653.3 L1400.0,652.6 L1410.2,653.3 L1411.4,666.4 L1460.2,667.6 L1485.3,663.8 L1497.8,653.1 L1507.8,645.1 L1516.6,641.3 L1524.1,651.3 L1512.8,662.6 L1505.3,672.6 L1505.3,695.1 L1495.3,705.2 L1475.3,722.7 L1470.3,727.7 L1455.2,730.2 L1454.0,736.5 L1450.2,736.5 L1447.7,739.0 L1435.2,740.2 L1420.2,735.2 L1410.2,727.7 L1400.2,724.4 L1387.6,732.7 L1373.3,737.2 L1320.7,740.2 L1318.2,729.0 L1304.4,729.0 L1308.2,715.2 L1301.9,706.4 L1300.7,698.9 L1238.1,700.2Z"/>
<path d="M1144.2,745.2 L1174.2,742.7 L1178.0,720.2 L1202.5,723.2 L1205.5,717.7 L1206.8,711.4 L1229.3,697.7 L1235.6,705.2 L1245.6,717.7 L1254.4,735.2 L1252.6,755.2 L1254.4,800.3 L1255.6,850.4 L1252.6,869.9 L1208.0,870.9 L1185.5,870.4 L1173.0,865.4 L1158.0,857.9 L1142.9,850.4 L1135.4,841.6 L1126.7,831.6 L1121.2,828.4 L1121.2,821.6 L1123.4,820.3 L1123.4,794.8 L1130.4,794.1 L1130.9,784.8 L1144.2,784.0Z"/>
<path d="M1238.1,700.7 L1300.7,699.4 L1301.9,706.4 L1308.2,715.2 L1304.4,729.0 L1318.2,729.0 L1320.7,740.2 L1373.3,737.2 L1385.8,733.2 L1388.3,740.2 L1409.6,745.2 L1410.9,760.2 L1402.1,756.5 L1398.3,772.8 L1392.1,792.8 L1348.3,795.3 L1347.0,800.3 L1325.7,806.6 L1328.2,825.3 L1335.7,852.9 L1337.0,871.7 L1253.1,869.9 L1255.6,850.4 L1254.4,800.3 L1252.6,755.2 L1254.4,735.2 L1245.6,717.7Z"/>
<path d="M1387.6,732.7 L1400.2,724.4 L1410.2,727.7 L1420.2,735.2 L1435.2,740.2 L1447.7,739.0 L1450.2,736.5 L1454.0,736.5 L1455.2,730.2 L1470.3,727.7 L1475.3,722.7 L1495.3,705.2 L1505.3,695.1 L1505.3,672.6 L1512.8,662.6 L1524.1,651.3 L1540.4,660.1 L1560.4,670.1 L1577.9,678.9 L1590.5,678.9 L1591.7,673.9 L1598.0,672.6 L1680.6,672.6 L1683.1,676.4 L1701.9,675.1 L1709.4,665.1 L1785.8,664.6 L1787.0,675.1 L1795.8,685.1 L1808.3,696.4 L1810.3,720.2 L1809.5,750.2 L1805.8,775.3 L1800.8,800.3 L1794.5,825.3 L1788.3,849.1 L1755.7,849.1 L1754.5,857.9 L1745.7,857.9 L1739.4,867.9 L1740.7,880.4 L1736.9,890.5 L1739.4,910.5 L1725.7,915.5 L1703.1,915.5 L1713.1,885.4 L1725.7,865.4 L1733.2,846.6 L1719.4,846.6 L1720.7,835.4 L1674.3,835.4 L1670.6,840.4 L1660.6,845.4 L1655.6,849.1 L1632.5,847.9 L1631.8,821.6 L1567.9,821.6 L1567.9,834.1 L1527.4,834.1 L1526.6,824.1 L1514.1,822.8 L1512.8,816.6 L1500.3,805.3 L1490.3,800.3 L1470.3,796.6 L1457.7,794.1 L1456.5,785.3 L1450.2,771.5 L1442.7,771.5 L1437.7,780.3 L1417.7,779.0 L1412.7,772.8 L1408.9,756.5 L1410.7,750.2 L1410.2,740.7 L1387.6,739.7Z"/>
<path d="M1582.9,898.0 L1603.0,887.9 L1618.0,881.7 L1624.3,882.9 L1625.5,899.2 L1660.6,900.5 L1670.6,893.0 L1676.8,893.0 L1680.6,915.5 L1691.9,915.0 L1694.4,918.0 L1703.1,915.5 L1725.7,915.5 L1715.6,923.0 L1705.6,938.0 L1700.6,945.0 L1695.6,962.5 L1690.6,975.1 L1683.1,982.6 L1670.6,990.1 L1650.5,991.3 L1635.5,988.8 L1625.5,986.3 L1613.0,983.8 L1600.5,975.1 L1587.9,965.0 L1575.4,961.3 L1562.9,960.0 L1557.9,960.0 L1565.4,952.5 L1575.4,938.0 L1575.4,933.0 L1580.4,913.0Z"/>
<path d="M1788.3,849.1 L1755.7,849.1 L1754.5,857.9 L1745.7,857.9 L1739.4,867.9 L1740.7,880.4 L1736.9,890.5 L1739.4,910.5 L1725.7,915.5 L1715.6,923.0 L1705.6,938.0 L1700.6,945.0 L1695.6,962.5 L1700.6,962.5 L1710.6,957.5 L1713.1,960.0 L1725.7,960.0 L1733.2,965.0 L1734.4,973.8 L1740.7,976.3 L1753.2,975.1 L1758.2,957.5 L1763.2,940.0 L1765.7,925.5 L1773.2,900.5 L1780.7,875.4Z"/>
<path d="M1323.8,806.6 L1346.3,800.3 L1347.6,794.1 L1391.4,792.8 L1397.7,772.8 L1401.4,757.7 L1408.9,756.5 L1412.7,772.8 L1417.7,779.0 L1437.7,780.3 L1442.7,771.5 L1450.2,771.5 L1456.5,785.3 L1457.7,794.1 L1470.3,796.6 L1490.3,800.3 L1500.3,805.3 L1512.8,816.6 L1514.1,822.8 L1526.6,824.1 L1527.4,834.1 L1567.9,834.1 L1567.9,862.9 L1555.4,864.2 L1525.3,871.7 L1517.8,869.2 L1500.3,876.7 L1492.8,880.4 L1465.3,884.2 L1466.5,876.7 L1460.2,871.7 L1454.0,856.6 L1452.7,855.4 L1432.7,855.4 L1425.2,865.4 L1417.7,874.2 L1410.2,875.4 L1402.7,871.7 L1395.1,860.4 L1385.1,850.4 L1372.6,846.6 L1360.1,850.4 L1340.1,860.4 L1335.1,852.9 L1327.5,825.3Z"/>
<path d="M1567.9,821.6 L1631.8,821.6 L1632.5,847.9 L1655.6,849.1 L1660.6,845.4 L1670.6,840.4 L1674.3,835.4 L1720.7,835.4 L1719.4,846.6 L1733.2,846.6 L1725.7,865.4 L1713.1,885.4 L1703.1,915.5 L1694.4,918.0 L1691.9,915.0 L1680.6,915.5 L1676.8,893.0 L1670.6,893.0 L1660.6,900.5 L1625.5,899.2 L1624.3,882.9 L1618.0,881.7 L1603.0,887.9 L1582.9,898.0 L1569.9,894.2 L1569.2,862.9 L1567.9,834.1Z"/>
<path d="M1465.3,884.2 L1492.8,880.4 L1500.3,876.7 L1517.8,869.2 L1525.3,871.7 L1526.6,895.5 L1524.1,898.0 L1526.6,908.0 L1526.6,925.5 L1540.4,928.0 L1542.9,931.8 L1575.4,933.0 L1575.4,938.0 L1565.4,952.5 L1557.9,960.0 L1547.9,967.5 L1540.4,977.6 L1535.4,990.1 L1525.3,1012.6 L1517.8,1027.6 L1514.1,1027.6 L1502.8,1015.1 L1495.3,1000.1 L1485.3,990.1 L1472.8,981.3 L1450.2,977.6 L1447.7,973.8 L1451.5,933.0 L1472.8,931.8 L1474.0,895.5 L1462.8,891.7Z"/>
<path d="M1525.3,871.7 L1555.4,864.2 L1567.9,862.9 L1569.9,894.2 L1582.9,898.0 L1580.4,913.0 L1575.4,933.0 L1542.9,931.8 L1540.4,928.0 L1526.6,925.5 L1526.6,908.0 L1524.1,898.0 L1526.6,895.5Z"/>
<path d="M1250.6,870.9 L1337.0,871.7 L1340.1,860.4 L1360.1,850.4 L1372.6,846.6 L1385.1,850.4 L1395.1,860.4 L1402.7,871.7 L1410.2,875.4 L1417.7,874.2 L1425.2,865.4 L1432.7,855.4 L1452.7,855.4 L1454.0,856.6 L1460.2,871.7 L1466.5,876.7 L1465.3,884.2 L1462.8,891.7 L1440.2,909.2 L1417.7,923.0 L1410.2,928.0 L1397.7,948.0 L1392.6,960.1 L1393.3,953.8 L1388.3,965.0 L1387.1,1052.7 L1387.1,1100.2 L1382.1,1101.5 L1382.1,1053.9 L1380.3,1050.2 L1378.3,1027.6 L1373.3,1028.9 L1369.5,1042.7 L1368.3,1028.9 L1358.3,1027.6 L1357.0,1016.4 L1349.5,1015.1 L1349.5,1003.8 L1335.7,1002.6 L1323.2,1007.1 L1303.2,1001.3 L1300.7,993.8 L1290.7,985.1 L1285.7,972.6 L1275.6,957.5 L1270.6,946.3 L1261.9,944.3 L1266.9,935.5 L1260.6,923.0 L1251.9,900.5 L1248.1,882.9Z"/>
<path d="M1250.7,871.7 L1265.2,868.1 L1288.7,867.2 L1301.4,869.9 L1335.7,873.5 L1337.5,882.5 L1332.1,906.1 L1321.3,907.9 L1326.7,914.2 L1324.9,917.8 L1310.4,918.7 L1321.3,927.7 L1317.6,935.0 L1301.4,936.8 L1292.3,935.0 L1288.7,925.9 L1283.3,919.6 L1261.6,921.4 L1256.2,909.7 L1251.6,895.2 L1248.9,880.7Z"/>
<path d="M1261.6,921.4 L1283.3,919.6 L1288.7,925.9 L1292.3,935.0 L1301.4,936.8 L1317.6,935.0 L1321.3,927.7 L1320.3,944.0 L1318.5,954.9 L1308.6,958.5 L1297.7,959.4 L1281.5,958.5 L1274.2,945.8 L1267.0,933.2Z"/>
<path d="M1281.5,958.5 L1297.7,959.4 L1308.6,958.5 L1318.5,954.9 L1319.4,974.8 L1325.8,975.7 L1325.8,983.8 L1337.5,984.7 L1338.4,1004.6 L1324.9,1005.5 L1310.4,1003.7 L1301.4,998.3 L1292.3,987.4 L1288.7,976.6 L1285.1,967.5Z"/>
<path d="M1320.3,955.8 L1389.1,954.0 L1386.3,965.7 L1385.4,1030.8 L1382.7,1048.9 L1380.0,1048.9 L1377.3,1028.1 L1373.7,1028.1 L1370.1,1038.0 L1364.6,1046.2 L1361.0,1030.8 L1361.0,1017.2 L1351.1,1016.3 L1350.2,1003.7 L1338.4,1004.6 L1337.5,984.7 L1325.8,983.8 L1325.8,975.7 L1319.4,974.8Z"/>
<path d="M1462.8,891.7 L1474.0,895.5 L1472.8,931.8 L1451.5,933.0 L1450.2,960.1 L1448.4,973.8 L1420.9,977.6 L1417.1,981.3 L1417.1,1000.1 L1405.8,1001.3 L1405.8,1027.6 L1423.4,1028.9 L1423.4,1051.4 L1408.4,1052.7 L1404.6,1055.2 L1387.1,1053.9 L1387.1,965.0 L1393.3,953.8 L1397.7,948.0 L1410.2,928.0 L1417.7,923.0 L1440.2,909.2Z"/>
<path d="M990.2,879.2 L1040.3,839.9 L1131.7,839.1 L1135.4,841.6 L1142.9,850.4 L1158.0,857.9 L1156.7,867.9 L1140.4,871.7 L1132.9,872.9 L1130.4,875.4 L1096.6,877.9 L1095.4,891.7 L1090.4,892.5 L1089.1,876.7 L1080.3,869.2 L1075.3,864.2 L1045.3,864.2 L1035.3,869.2 L1020.2,877.9 L1010.2,885.4 L1005.2,885.4 L1003.2,880.9 L990.2,880.9Z"/>
<path d="M985.2,880.9 L1003.2,880.9 L1005.2,885.4 L1010.2,885.4 L1020.2,877.9 L1035.3,869.2 L1045.3,864.2 L1075.3,864.2 L1080.3,869.2 L1089.1,876.7 L1090.4,892.5 L1095.4,891.7 L1096.6,877.9 L1130.4,875.4 L1132.9,872.9 L1140.4,871.7 L1156.7,867.9 L1158.0,857.9 L1173.0,865.4 L1185.5,871.7 L1173.0,895.5 L1166.7,918.0 L1183.0,923.0 L1185.5,935.5 L1188.0,948.0 L1185.1,947.8 L1179.5,948.5 L1165.5,949.9 L1137.6,950.6 L1112.4,951.3 L1106.8,955.5 L1091.5,956.2 L1064.9,957.6 L1053.7,961.1 L1038.4,963.9 L1032.1,969.4 L1030.0,975.0 L1021.6,978.5 L1014.6,972.2 L1006.2,965.2 L997.8,958.3 L986.6,952.7 L969.9,948.5 L953.8,945.0 L941.2,941.5 L941.4,918.0Z"/>
<path d="M1185.5,871.7 L1208.0,870.9 L1250.6,870.9 L1248.1,882.9 L1251.9,900.5 L1260.6,923.0 L1266.9,935.5 L1260.6,943.0 L1241.8,941.8 L1218.6,962.0 L1205.5,951.3 L1188.0,941.3 L1185.5,935.5 L1183.0,923.0 L1166.7,918.0 L1173.0,895.5Z"/>
<path d="M1218.6,962.0 L1241.8,941.3 L1251.9,940.8 L1260.6,951.3 L1270.6,963.8 L1271.9,971.3 L1245.6,991.3 L1230.6,973.8Z"/>
<path d="M1253.1,941.3 L1270.6,946.3 L1275.6,957.5 L1285.7,972.6 L1290.7,985.1 L1300.7,993.8 L1303.2,1001.3 L1320.7,1008.9 L1320.7,1026.4 L1318.7,1027.6 L1318.7,1035.1 L1321.2,1036.4 L1321.2,1050.2 L1285.7,1051.4 L1284.4,1063.9 L1280.7,1052.7 L1273.1,1035.1 L1265.6,1020.1 L1258.1,1007.6 L1245.6,991.3 L1271.9,971.3 L1270.6,963.8 L1260.6,951.3Z"/>
<path d="M1285.7,1051.4 L1321.2,1050.2 L1323.2,1007.6 L1349.5,1003.8 L1349.5,1015.1 L1357.0,1016.4 L1358.3,1027.6 L1368.3,1028.9 L1369.5,1042.7 L1373.3,1028.9 L1378.3,1027.6 L1380.3,1050.2 L1382.1,1100.2 L1375.8,1102.3 L1375.3,1116.5 L1368.3,1117.8 L1368.3,1167.9 L1369.5,1169.1 L1368.3,1190.4 L1363.3,1209.2 L1358.3,1222.9 L1354.5,1231.7 L1345.8,1233.0 L1333.2,1225.4 L1318.2,1216.7 L1308.2,1217.9 L1295.7,1209.2 L1290.7,1200.4 L1285.7,1194.1 L1284.4,1186.6 L1285.7,1177.9 L1293.2,1172.9 L1295.7,1165.3 L1308.2,1160.3 L1306.9,1137.8 L1300.7,1115.3 L1293.2,1090.2 L1284.4,1065.2Z"/>
<path d="M1375.8,1101.9 L1382.0,1101.3 L1383.3,1125.1 L1380.2,1128.2 L1374.5,1130.1 L1373.9,1167.0 L1406.4,1167.6 L1409.6,1165.1 L1416.5,1164.5 L1417.7,1170.1 L1422.7,1175.1 L1419.0,1182.6 L1411.5,1190.1 L1402.7,1198.9 L1409.6,1198.9 L1412.1,1205.2 L1410.8,1210.2 L1412.1,1216.4 L1413.3,1222.7 L1415.8,1228.3 L1407.7,1234.0 L1409.0,1238.3 L1402.7,1235.8 L1400.8,1231.5 L1403.9,1227.7 L1397.7,1225.2 L1393.9,1232.7 L1392.7,1236.5 L1387.7,1239.0 L1383.9,1242.1 L1384.5,1246.5 L1381.4,1245.8 L1376.4,1243.3 L1353.9,1233.3 L1357.6,1229.0 L1358.9,1222.7 L1362.6,1216.4 L1366.4,1210.2 L1368.9,1177.6 L1367.6,1118.8 L1371.4,1116.3 L1375.2,1115.7Z"/>
<path d="M1384.6,1101.5 L1404.6,1100.2 L1405.8,1107.8 L1435.9,1107.8 L1435.9,1137.8 L1423.4,1142.8 L1422.1,1162.8 L1417.1,1164.1 L1403.3,1167.9 L1374.5,1166.6 L1373.3,1129.0 L1383.3,1127.8Z"/>
<path d="M1417.7,977.6 L1447.7,973.8 L1450.2,977.6 L1472.8,981.3 L1485.3,990.1 L1495.3,1000.1 L1502.8,1015.1 L1514.1,1027.6 L1510.3,1045.2 L1505.3,1057.7 L1505.3,1080.2 L1507.8,1100.2 L1512.8,1120.3 L1517.8,1137.8 L1490.3,1137.8 L1489.0,1125.3 L1475.3,1124.8 L1472.8,1132.8 L1469.0,1132.8 L1469.0,1119.0 L1477.8,1116.5 L1476.5,1095.2 L1436.5,1099.0 L1435.2,1107.8 L1405.2,1107.8 L1403.9,1100.2 L1386.4,1100.2 L1386.4,1053.9 L1403.9,1055.2 L1407.7,1052.7 L1422.7,1051.4 L1422.7,1028.9 L1405.2,1027.6 L1405.2,1001.3 L1416.4,1000.1Z"/>
<path d="M1540.4,980.1 L1552.9,980.1 L1565.4,986.3 L1575.4,993.8 L1582.9,997.6 L1590.5,1012.6 L1628.0,1013.9 L1635.5,1025.1 L1634.3,1037.2 L1596.7,1038.2 L1595.5,1075.2 L1585.4,1085.2 L1582.9,1090.2 L1575.4,1095.2 L1560.4,1105.3 L1547.9,1117.8 L1537.9,1130.3 L1531.6,1146.6 L1526.6,1145.3 L1519.1,1137.8 L1512.8,1120.3 L1507.8,1100.2 L1505.3,1080.2 L1505.3,1057.7 L1510.3,1045.2 L1517.8,1027.6 L1525.3,1012.6 L1535.4,990.1Z"/>
<path d="M1436.5,1099.0 L1476.5,1095.2 L1477.8,1116.5 L1469.0,1119.0 L1469.0,1132.8 L1472.8,1132.8 L1475.3,1124.8 L1489.0,1125.3 L1490.3,1137.8 L1517.8,1137.8 L1526.6,1145.3 L1530.4,1147.8 L1525.3,1157.8 L1517.8,1170.4 L1512.8,1180.4 L1509.1,1190.4 L1507.8,1205.4 L1499.1,1212.9 L1485.3,1207.9 L1467.8,1201.7 L1450.2,1200.4 L1437.7,1195.4 L1425.2,1195.4 L1411.4,1197.9 L1422.7,1177.9 L1416.4,1164.1 L1421.4,1162.8 L1422.7,1144.1 L1435.2,1140.3Z"/>
<path d="M1540.4,977.6 L1547.9,967.5 L1557.9,960.0 L1562.9,960.0 L1575.4,961.3 L1587.9,965.0 L1600.5,975.1 L1613.0,983.8 L1625.5,986.3 L1635.5,988.8 L1650.5,991.3 L1670.6,990.1 L1683.1,982.6 L1690.6,975.1 L1695.6,962.5 L1700.6,962.5 L1710.6,957.5 L1713.1,960.0 L1725.7,960.0 L1733.2,965.0 L1734.4,973.8 L1734.4,982.6 L1725.7,986.3 L1720.7,997.6 L1713.1,1015.1 L1716.9,1017.6 L1716.9,1027.6 L1720.7,1037.7 L1636.8,1037.2 L1635.5,1025.1 L1628.0,1013.9 L1590.5,1012.6 L1582.9,997.6 L1575.4,993.8 L1565.4,986.3 L1552.9,980.1Z"/>
</g>
<g stroke="#ffffff" stroke-opacity="0.9" stroke-width="2.3" stroke-linejoin="round">
<path d="M993.5,341.8 L1004.0,341.8 L1005.2,350.1 L1015.2,355.1 L1027.3,355.6 L1030.3,350.1 L1032.8,348.8 L1031.5,341.6 L1798.3,338.1 L1800.0,542.9 L1803.3,546.6 L1807.0,660.1 L1808.3,682.6 L1808.3,697.7 L1805.8,775.3 L1144.2,775.3 L1144.2,745.2 L1141.7,735.2 L1135.4,717.7 L1125.4,690.1 L1112.9,662.6 L1100.4,632.6 L1091.6,600.0Z" fill="url(#baseg)" stroke="none"/>
<path d="M993.5,341.8 L1004.0,341.8 L1005.2,350.1 L1015.2,355.1 L1027.3,355.6 L1030.3,350.1 L1032.8,348.8 L1031.5,341.6 L1798.3,338.1 L1800.0,542.9 L1803.3,546.6 L1807.0,660.1 L1808.3,682.6 L1808.3,697.7 L1805.8,775.3 L1144.2,775.3 L1144.2,745.2 L1141.7,735.2 L1135.4,717.7 L1125.4,690.1 L1112.9,662.6 L1100.4,632.6 L1091.6,600.0Z" fill="#2f6fa8" stroke="none" opacity="0.07" filter="url(#tex)"/>
<path d="M1359.3,380.6 L1369.6,380.6 L1370.1,393.9 L1375.9,394.6 L1375.1,417.7 L1384.6,418.2 L1385.1,408.2 L1392.1,408.2 L1393.1,429.0 L1402.7,429.7 L1410.2,426.4 L1410.2,380.6 L1465.3,380.6 L1465.3,398.2 L1490.3,398.2 L1490.3,409.4 L1546.6,409.4 L1546.6,427.7 L1614.2,427.7 L1615.0,444.7 L1635.0,444.7 L1635.0,502.3 L1582.9,502.3 L1580.4,517.8 L1579.9,534.1 L1570.4,551.1 L1553.4,551.1 L1552.9,540.9 L1527.9,540.9 L1527.4,552.9 L1512.8,552.9 L1512.3,543.4 L1497.8,542.4 L1496.6,535.4 L1487.3,534.1 L1486.5,524.6 L1472.8,524.1 L1444.0,524.1 L1443.2,533.4 L1408.9,533.4 L1408.2,522.8 L1393.9,522.3 L1394.6,500.3 L1412.2,499.6 L1412.2,460.2 L1375.1,459.5 L1372.6,454.0 L1362.1,447.7 L1361.3,422.7 L1366.4,420.2 L1366.4,396.4 L1358.3,395.9Z" fill="#b9d8ec"/>
<path d="M1546.6,458.2 L1606.7,458.2 L1606.7,500.3 L1580.4,500.3 L1579.9,515.3 L1552.9,514.8 L1552.4,500.3 L1502.3,499.6 L1502.3,494.1 L1512.8,490.3 L1522.8,479.0 L1531.6,477.8 L1532.9,465.8 L1549.1,464.5Z" fill="#6aa2cb"/>
<path d="M1164.4,598.2 L1182.6,598.8 L1190.1,602.6 L1196.3,604.5 L1199.5,602.6 L1202.6,592.6 L1208.2,581.3 L1216.4,578.2 L1225.1,570.0 L1230.1,568.8 L1235.8,571.3 L1236.4,575.0 L1233.3,586.3 L1232.6,595.1 L1240.1,596.9 L1243.9,596.9 L1244.5,598.8 L1257.7,599.4 L1271.4,598.8 L1272.7,602.6 L1271.4,612.6 L1272.7,615.1 L1282.7,615.1 L1289.0,612.6 L1291.5,608.8 L1301.5,605.1 L1309.0,600.1 L1317.8,594.4 L1322.1,592.6 L1323.4,600.1 L1320.9,605.1 L1324.6,607.6 L1320.3,612.6 L1318.4,615.1 L1317.8,623.9 L1316.3,616.3 L1315.3,630.1 L1316.5,657.7 L1315.9,668.9 L1313.4,658.9 L1305.2,657.0 L1301.5,660.2 L1290.2,662.0 L1276.4,660.8 L1270.2,653.3 L1260.2,652.6 L1253.3,655.2 L1254.5,674.6 L1247.7,678.3 L1236.4,677.7 L1233.3,696.5 L1230.1,695.2 L1226.4,691.5 L1213.9,681.4 L1198.8,677.7 L1192.6,660.2 L1183.8,637.6 L1173.8,613.8 L1166.9,611.3 L1165.0,605.1Z" fill="#b9d8ec"/>
<path d="M1233.3,696.5 L1236.4,677.7 L1247.7,678.3 L1254.5,674.6 L1253.3,655.2 L1260.2,652.6 L1270.2,653.3 L1276.4,660.8 L1290.2,662.0 L1301.5,660.2 L1305.2,657.0 L1313.4,658.9 L1315.9,668.9 L1316.5,670.8 L1327.8,670.2 L1340.3,667.0 L1352.8,662.7 L1360.3,657.7 L1369.1,654.5 L1384.1,653.3 L1400.0,652.6 L1410.2,653.3 L1411.4,666.4 L1460.2,667.6 L1485.3,663.8 L1497.8,653.1 L1507.8,645.1 L1516.6,641.3 L1524.1,651.3 L1512.8,662.6 L1505.3,672.6 L1505.3,695.1 L1495.3,705.2 L1475.3,722.7 L1470.3,727.7 L1455.2,730.2 L1454.0,736.5 L1450.2,736.5 L1447.7,739.0 L1435.2,740.2 L1420.2,735.2 L1410.2,727.7 L1400.2,724.4 L1387.6,732.7 L1373.3,737.2 L1320.7,740.2 L1318.2,729.0 L1304.4,729.0 L1308.2,715.2 L1301.9,706.4 L1300.7,698.9 L1238.1,700.2Z" fill="#3a7fbf"/>
<path d="M1144.2,745.2 L1174.2,742.7 L1178.0,720.2 L1202.5,723.2 L1205.5,717.7 L1206.8,711.4 L1229.3,697.7 L1235.6,705.2 L1245.6,717.7 L1254.4,735.2 L1252.6,755.2 L1254.4,800.3 L1255.6,850.4 L1252.6,869.9 L1208.0,870.9 L1185.5,870.4 L1173.0,865.4 L1158.0,857.9 L1142.9,850.4 L1135.4,841.6 L1126.7,831.6 L1121.2,828.4 L1121.2,821.6 L1123.4,820.3 L1123.4,794.8 L1130.4,794.1 L1130.9,784.8 L1144.2,784.0Z" fill="#3a7fbf"/>
<path d="M1238.1,700.7 L1300.7,699.4 L1301.9,706.4 L1308.2,715.2 L1304.4,729.0 L1318.2,729.0 L1320.7,740.2 L1373.3,737.2 L1385.8,733.2 L1388.3,740.2 L1409.6,745.2 L1410.9,760.2 L1402.1,756.5 L1398.3,772.8 L1392.1,792.8 L1348.3,795.3 L1347.0,800.3 L1325.7,806.6 L1328.2,825.3 L1335.7,852.9 L1337.0,871.7 L1253.1,869.9 L1255.6,850.4 L1254.4,800.3 L1252.6,755.2 L1254.4,735.2 L1245.6,717.7Z" fill="#6fa5cd"/>
<path d="M1268.1,739.0 L1283.2,724.4 L1293.2,730.2 L1275.6,744.7 L1270.6,744.0Z" fill="#b9d8ec"/>
<path d="M1387.6,732.7 L1400.2,724.4 L1410.2,727.7 L1420.2,735.2 L1435.2,740.2 L1447.7,739.0 L1450.2,736.5 L1454.0,736.5 L1455.2,730.2 L1470.3,727.7 L1475.3,722.7 L1495.3,705.2 L1505.3,695.1 L1505.3,672.6 L1512.8,662.6 L1524.1,651.3 L1540.4,660.1 L1560.4,670.1 L1577.9,678.9 L1590.5,678.9 L1591.7,673.9 L1598.0,672.6 L1680.6,672.6 L1683.1,676.4 L1701.9,675.1 L1709.4,665.1 L1785.8,664.6 L1787.0,675.1 L1795.8,685.1 L1808.3,696.4 L1810.3,720.2 L1809.5,750.2 L1805.8,775.3 L1800.8,800.3 L1794.5,825.3 L1788.3,849.1 L1755.7,849.1 L1754.5,857.9 L1745.7,857.9 L1739.4,867.9 L1740.7,880.4 L1736.9,890.5 L1739.4,910.5 L1725.7,915.5 L1703.1,915.5 L1713.1,885.4 L1725.7,865.4 L1733.2,846.6 L1719.4,846.6 L1720.7,835.4 L1674.3,835.4 L1670.6,840.4 L1660.6,845.4 L1655.6,849.1 L1632.5,847.9 L1631.8,821.6 L1567.9,821.6 L1567.9,834.1 L1527.4,834.1 L1526.6,824.1 L1514.1,822.8 L1512.8,816.6 L1500.3,805.3 L1490.3,800.3 L1470.3,796.6 L1457.7,794.1 L1456.5,785.3 L1450.2,771.5 L1442.7,771.5 L1437.7,780.3 L1417.7,779.0 L1412.7,772.8 L1408.9,756.5 L1410.7,750.2 L1410.2,740.7 L1387.6,739.7Z" fill="#f3903f"/>
<path d="M1387.6,732.7 L1400.2,724.4 L1410.2,727.7 L1420.2,735.2 L1435.2,740.2 L1447.7,739.0 L1450.2,736.5 L1454.0,736.5 L1455.2,730.2 L1470.3,727.7 L1475.3,722.7 L1495.3,705.2 L1505.3,695.1 L1505.3,672.6 L1512.8,662.6 L1524.1,651.3 L1540.4,660.1 L1560.4,670.1 L1577.9,678.9 L1590.5,678.9 L1591.7,673.9 L1598.0,672.6 L1680.6,672.6 L1683.1,676.4 L1701.9,675.1 L1709.4,665.1 L1785.8,664.6 L1787.0,675.1 L1795.8,685.1 L1808.3,696.4 L1810.3,720.2 L1809.5,750.2 L1805.8,775.3 L1800.8,800.3 L1794.5,825.3 L1788.3,849.1 L1755.7,849.1 L1754.5,857.9 L1745.7,857.9 L1739.4,867.9 L1740.7,880.4 L1736.9,890.5 L1739.4,910.5 L1725.7,915.5 L1703.1,915.5 L1713.1,885.4 L1725.7,865.4 L1733.2,846.6 L1719.4,846.6 L1720.7,835.4 L1674.3,835.4 L1670.6,840.4 L1660.6,845.4 L1655.6,849.1 L1632.5,847.9 L1631.8,821.6 L1567.9,821.6 L1567.9,834.1 L1527.4,834.1 L1526.6,824.1 L1514.1,822.8 L1512.8,816.6 L1500.3,805.3 L1490.3,800.3 L1470.3,796.6 L1457.7,794.1 L1456.5,785.3 L1450.2,771.5 L1442.7,771.5 L1437.7,780.3 L1417.7,779.0 L1412.7,772.8 L1408.9,756.5 L1410.7,750.2 L1410.2,740.7 L1387.6,739.7Z" fill="#d86f1f" stroke="none" opacity="0.12" filter="url(#tex)"/>
<path d="M1582.9,898.0 L1603.0,887.9 L1618.0,881.7 L1624.3,882.9 L1625.5,899.2 L1660.6,900.5 L1670.6,893.0 L1676.8,893.0 L1680.6,915.5 L1691.9,915.0 L1694.4,918.0 L1703.1,915.5 L1725.7,915.5 L1715.6,923.0 L1705.6,938.0 L1700.6,945.0 L1695.6,962.5 L1690.6,975.1 L1683.1,982.6 L1670.6,990.1 L1650.5,991.3 L1635.5,988.8 L1625.5,986.3 L1613.0,983.8 L1600.5,975.1 L1587.9,965.0 L1575.4,961.3 L1562.9,960.0 L1557.9,960.0 L1565.4,952.5 L1575.4,938.0 L1575.4,933.0 L1580.4,913.0Z" fill="#f5a05c"/>
<path d="M1582.9,898.0 L1603.0,887.9 L1618.0,881.7 L1624.3,882.9 L1625.5,899.2 L1660.6,900.5 L1670.6,893.0 L1676.8,893.0 L1680.6,915.5 L1691.9,915.0 L1694.4,918.0 L1703.1,915.5 L1725.7,915.5 L1715.6,923.0 L1705.6,938.0 L1700.6,945.0 L1695.6,962.5 L1690.6,975.1 L1683.1,982.6 L1670.6,990.1 L1650.5,991.3 L1635.5,988.8 L1625.5,986.3 L1613.0,983.8 L1600.5,975.1 L1587.9,965.0 L1575.4,961.3 L1562.9,960.0 L1557.9,960.0 L1565.4,952.5 L1575.4,938.0 L1575.4,933.0 L1580.4,913.0Z" fill="#e07a2a" stroke="none" opacity="0.12" filter="url(#tex)"/>
<path d="M1788.3,849.1 L1755.7,849.1 L1754.5,857.9 L1745.7,857.9 L1739.4,867.9 L1740.7,880.4 L1736.9,890.5 L1739.4,910.5 L1725.7,915.5 L1715.6,923.0 L1705.6,938.0 L1700.6,945.0 L1695.6,962.5 L1700.6,962.5 L1710.6,957.5 L1713.1,960.0 L1725.7,960.0 L1733.2,965.0 L1734.4,973.8 L1740.7,976.3 L1753.2,975.1 L1758.2,957.5 L1763.2,940.0 L1765.7,925.5 L1773.2,900.5 L1780.7,875.4Z" fill="#fbcfa8"/>
<path d="M1323.8,806.6 L1346.3,800.3 L1347.6,794.1 L1391.4,792.8 L1397.7,772.8 L1401.4,757.7 L1408.9,756.5 L1412.7,772.8 L1417.7,779.0 L1437.7,780.3 L1442.7,771.5 L1450.2,771.5 L1456.5,785.3 L1457.7,794.1 L1470.3,796.6 L1490.3,800.3 L1500.3,805.3 L1512.8,816.6 L1514.1,822.8 L1526.6,824.1 L1527.4,834.1 L1567.9,834.1 L1567.9,862.9 L1555.4,864.2 L1525.3,871.7 L1517.8,869.2 L1500.3,876.7 L1492.8,880.4 L1465.3,884.2 L1466.5,876.7 L1460.2,871.7 L1454.0,856.6 L1452.7,855.4 L1432.7,855.4 L1425.2,865.4 L1417.7,874.2 L1410.2,875.4 L1402.7,871.7 L1395.1,860.4 L1385.1,850.4 L1372.6,846.6 L1360.1,850.4 L1340.1,860.4 L1335.1,852.9 L1327.5,825.3Z" fill="#fbcfa8"/>
<path d="M1567.9,821.6 L1631.8,821.6 L1632.5,847.9 L1655.6,849.1 L1660.6,845.4 L1670.6,840.4 L1674.3,835.4 L1720.7,835.4 L1719.4,846.6 L1733.2,846.6 L1725.7,865.4 L1713.1,885.4 L1703.1,915.5 L1694.4,918.0 L1691.9,915.0 L1680.6,915.5 L1676.8,893.0 L1670.6,893.0 L1660.6,900.5 L1625.5,899.2 L1624.3,882.9 L1618.0,881.7 L1603.0,887.9 L1582.9,898.0 L1569.9,894.2 L1569.2,862.9 L1567.9,834.1Z" fill="#fbcfa8"/>
<path d="M1465.3,884.2 L1492.8,880.4 L1500.3,876.7 L1517.8,869.2 L1525.3,871.7 L1526.6,895.5 L1524.1,898.0 L1526.6,908.0 L1526.6,925.5 L1540.4,928.0 L1542.9,931.8 L1575.4,933.0 L1575.4,938.0 L1565.4,952.5 L1557.9,960.0 L1547.9,967.5 L1540.4,977.6 L1535.4,990.1 L1525.3,1012.6 L1517.8,1027.6 L1514.1,1027.6 L1502.8,1015.1 L1495.3,1000.1 L1485.3,990.1 L1472.8,981.3 L1450.2,977.6 L1447.7,973.8 L1451.5,933.0 L1472.8,931.8 L1474.0,895.5 L1462.8,891.7Z" fill="#f8b07a"/>
<path d="M1525.3,871.7 L1555.4,864.2 L1567.9,862.9 L1569.9,894.2 L1582.9,898.0 L1580.4,913.0 L1575.4,933.0 L1542.9,931.8 L1540.4,928.0 L1526.6,925.5 L1526.6,908.0 L1524.1,898.0 L1526.6,895.5Z" fill="#f8b07a"/>
<path d="M1250.6,870.9 L1337.0,871.7 L1340.1,860.4 L1360.1,850.4 L1372.6,846.6 L1385.1,850.4 L1395.1,860.4 L1402.7,871.7 L1410.2,875.4 L1417.7,874.2 L1425.2,865.4 L1432.7,855.4 L1452.7,855.4 L1454.0,856.6 L1460.2,871.7 L1466.5,876.7 L1465.3,884.2 L1462.8,891.7 L1440.2,909.2 L1417.7,923.0 L1410.2,928.0 L1397.7,948.0 L1392.6,960.1 L1393.3,953.8 L1388.3,965.0 L1387.1,1052.7 L1387.1,1100.2 L1382.1,1101.5 L1382.1,1053.9 L1380.3,1050.2 L1378.3,1027.6 L1373.3,1028.9 L1369.5,1042.7 L1368.3,1028.9 L1358.3,1027.6 L1357.0,1016.4 L1349.5,1015.1 L1349.5,1003.8 L1335.7,1002.6 L1323.2,1007.1 L1303.2,1001.3 L1300.7,993.8 L1290.7,985.1 L1285.7,972.6 L1275.6,957.5 L1270.6,946.3 L1261.9,944.3 L1266.9,935.5 L1260.6,923.0 L1251.9,900.5 L1248.1,882.9Z" fill="#a5cfea"/>
<path d="M1250.7,871.7 L1265.2,868.1 L1288.7,867.2 L1301.4,869.9 L1335.7,873.5 L1337.5,882.5 L1332.1,906.1 L1321.3,907.9 L1326.7,914.2 L1324.9,917.8 L1310.4,918.7 L1321.3,927.7 L1317.6,935.0 L1301.4,936.8 L1292.3,935.0 L1288.7,925.9 L1283.3,919.6 L1261.6,921.4 L1256.2,909.7 L1251.6,895.2 L1248.9,880.7Z" fill="#b9d9ef"/>
<path d="M1261.6,921.4 L1283.3,919.6 L1288.7,925.9 L1292.3,935.0 L1301.4,936.8 L1317.6,935.0 L1321.3,927.7 L1320.3,944.0 L1318.5,954.9 L1308.6,958.5 L1297.7,959.4 L1281.5,958.5 L1274.2,945.8 L1267.0,933.2Z" fill="#93c1e4"/>
<path d="M1281.5,958.5 L1297.7,959.4 L1308.6,958.5 L1318.5,954.9 L1319.4,974.8 L1325.8,975.7 L1325.8,983.8 L1337.5,984.7 L1338.4,1004.6 L1324.9,1005.5 L1310.4,1003.7 L1301.4,998.3 L1292.3,987.4 L1288.7,976.6 L1285.1,967.5Z" fill="#bad9ee"/>
<path d="M1320.3,955.8 L1389.1,954.0 L1386.3,965.7 L1385.4,1030.8 L1382.7,1048.9 L1380.0,1048.9 L1377.3,1028.1 L1373.7,1028.1 L1370.1,1038.0 L1364.6,1046.2 L1361.0,1030.8 L1361.0,1017.2 L1351.1,1016.3 L1350.2,1003.7 L1338.4,1004.6 L1337.5,984.7 L1325.8,983.8 L1325.8,975.7 L1319.4,974.8Z" fill="#aad2ed"/>
<path d="M1462.8,891.7 L1474.0,895.5 L1472.8,931.8 L1451.5,933.0 L1450.2,960.1 L1448.4,973.8 L1420.9,977.6 L1417.1,981.3 L1417.1,1000.1 L1405.8,1001.3 L1405.8,1027.6 L1423.4,1028.9 L1423.4,1051.4 L1408.4,1052.7 L1404.6,1055.2 L1387.1,1053.9 L1387.1,965.0 L1393.3,953.8 L1397.7,948.0 L1410.2,928.0 L1417.7,923.0 L1440.2,909.2Z" fill="#3a7fbf"/>
<path d="M990.2,879.2 L1040.3,839.9 L1131.7,839.1 L1135.4,841.6 L1142.9,850.4 L1158.0,857.9 L1156.7,867.9 L1140.4,871.7 L1132.9,872.9 L1130.4,875.4 L1096.6,877.9 L1095.4,891.7 L1090.4,892.5 L1089.1,876.7 L1080.3,869.2 L1075.3,864.2 L1045.3,864.2 L1035.3,869.2 L1020.2,877.9 L1010.2,885.4 L1005.2,885.4 L1003.2,880.9 L990.2,880.9Z" fill="#a5cfea"/>
<path d="M985.2,880.9 L1003.2,880.9 L1005.2,885.4 L1010.2,885.4 L1020.2,877.9 L1035.3,869.2 L1045.3,864.2 L1075.3,864.2 L1080.3,869.2 L1089.1,876.7 L1090.4,892.5 L1095.4,891.7 L1096.6,877.9 L1130.4,875.4 L1132.9,872.9 L1140.4,871.7 L1156.7,867.9 L1158.0,857.9 L1173.0,865.4 L1185.5,871.7 L1173.0,895.5 L1166.7,918.0 L1183.0,923.0 L1185.5,935.5 L1188.0,948.0 L1185.1,947.8 L1179.5,948.5 L1165.5,949.9 L1137.6,950.6 L1112.4,951.3 L1106.8,955.5 L1091.5,956.2 L1064.9,957.6 L1053.7,961.1 L1038.4,963.9 L1032.1,969.4 L1030.0,975.0 L1021.6,978.5 L1014.6,972.2 L1006.2,965.2 L997.8,958.3 L986.6,952.7 L969.9,948.5 L953.8,945.0 L941.2,941.5 L941.4,918.0Z" fill="#6fa5cd"/>
<path d="M985.2,880.9 L1003.2,880.9 L1005.2,885.4 L1010.2,885.4 L1020.2,877.9 L1035.3,869.2 L1045.3,864.2 L1075.3,864.2 L1080.3,869.2 L1089.1,876.7 L1090.4,892.5 L1095.4,891.7 L1096.6,877.9 L1130.4,875.4 L1132.9,872.9 L1140.4,871.7 L1156.7,867.9 L1158.0,857.9 L1173.0,865.4 L1185.5,871.7 L1173.0,895.5 L1166.7,918.0 L1183.0,923.0 L1185.5,935.5 L1188.0,948.0 L1185.1,947.8 L1179.5,948.5 L1165.5,949.9 L1137.6,950.6 L1112.4,951.3 L1106.8,955.5 L1091.5,956.2 L1064.9,957.6 L1053.7,961.1 L1038.4,963.9 L1032.1,969.4 L1030.0,975.0 L1021.6,978.5 L1014.6,972.2 L1006.2,965.2 L997.8,958.3 L986.6,952.7 L969.9,948.5 L953.8,945.0 L941.2,941.5 L941.4,918.0Z" fill="#3f7fb8" stroke="none" opacity="0.06" filter="url(#tex)"/>
<path d="M1185.5,871.7 L1208.0,870.9 L1250.6,870.9 L1248.1,882.9 L1251.9,900.5 L1260.6,923.0 L1266.9,935.5 L1260.6,943.0 L1241.8,941.8 L1218.6,962.0 L1205.5,951.3 L1188.0,941.3 L1185.5,935.5 L1183.0,923.0 L1166.7,918.0 L1173.0,895.5Z" fill="#f4954a"/>
<path d="M1218.6,962.0 L1241.8,941.3 L1251.9,940.8 L1260.6,951.3 L1270.6,963.8 L1271.9,971.3 L1245.6,991.3 L1230.6,973.8Z" fill="#f8b07a"/>
<path d="M1253.1,941.3 L1270.6,946.3 L1275.6,957.5 L1285.7,972.6 L1290.7,985.1 L1300.7,993.8 L1303.2,1001.3 L1320.7,1008.9 L1320.7,1026.4 L1318.7,1027.6 L1318.7,1035.1 L1321.2,1036.4 L1321.2,1050.2 L1285.7,1051.4 L1284.4,1063.9 L1280.7,1052.7 L1273.1,1035.1 L1265.6,1020.1 L1258.1,1007.6 L1245.6,991.3 L1271.9,971.3 L1270.6,963.8 L1260.6,951.3Z" fill="#3a7fbf"/>
<path d="M1285.7,1051.4 L1321.2,1050.2 L1323.2,1007.6 L1349.5,1003.8 L1349.5,1015.1 L1357.0,1016.4 L1358.3,1027.6 L1368.3,1028.9 L1369.5,1042.7 L1373.3,1028.9 L1378.3,1027.6 L1380.3,1050.2 L1382.1,1100.2 L1375.8,1102.3 L1375.3,1116.5 L1368.3,1117.8 L1368.3,1167.9 L1369.5,1169.1 L1368.3,1190.4 L1363.3,1209.2 L1358.3,1222.9 L1354.5,1231.7 L1345.8,1233.0 L1333.2,1225.4 L1318.2,1216.7 L1308.2,1217.9 L1295.7,1209.2 L1290.7,1200.4 L1285.7,1194.1 L1284.4,1186.6 L1285.7,1177.9 L1293.2,1172.9 L1295.7,1165.3 L1308.2,1160.3 L1306.9,1137.8 L1300.7,1115.3 L1293.2,1090.2 L1284.4,1065.2Z" fill="#c9c6c2"/>
<path d="M1285.7,1051.4 L1321.2,1050.2 L1323.2,1007.6 L1349.5,1003.8 L1349.5,1015.1 L1357.0,1016.4 L1358.3,1027.6 L1368.3,1028.9 L1369.5,1042.7 L1373.3,1028.9 L1378.3,1027.6 L1380.3,1050.2 L1382.1,1100.2 L1375.8,1102.3 L1375.3,1116.5 L1368.3,1117.8 L1368.3,1167.9 L1369.5,1169.1 L1368.3,1190.4 L1363.3,1209.2 L1358.3,1222.9 L1354.5,1231.7 L1345.8,1233.0 L1333.2,1225.4 L1318.2,1216.7 L1308.2,1217.9 L1295.7,1209.2 L1290.7,1200.4 L1285.7,1194.1 L1284.4,1186.6 L1285.7,1177.9 L1293.2,1172.9 L1295.7,1165.3 L1308.2,1160.3 L1306.9,1137.8 L1300.7,1115.3 L1293.2,1090.2 L1284.4,1065.2Z" fill="#9a9690" stroke="none" opacity="0.09" filter="url(#tex)"/>
<path d="M1375.8,1101.9 L1382.0,1101.3 L1383.3,1125.1 L1380.2,1128.2 L1374.5,1130.1 L1373.9,1167.0 L1406.4,1167.6 L1409.6,1165.1 L1416.5,1164.5 L1417.7,1170.1 L1422.7,1175.1 L1419.0,1182.6 L1411.5,1190.1 L1402.7,1198.9 L1409.6,1198.9 L1412.1,1205.2 L1410.8,1210.2 L1412.1,1216.4 L1413.3,1222.7 L1415.8,1228.3 L1407.7,1234.0 L1409.0,1238.3 L1402.7,1235.8 L1400.8,1231.5 L1403.9,1227.7 L1397.7,1225.2 L1393.9,1232.7 L1392.7,1236.5 L1387.7,1239.0 L1383.9,1242.1 L1384.5,1246.5 L1381.4,1245.8 L1376.4,1243.3 L1353.9,1233.3 L1357.6,1229.0 L1358.9,1222.7 L1362.6,1216.4 L1366.4,1210.2 L1368.9,1177.6 L1367.6,1118.8 L1371.4,1116.3 L1375.2,1115.7Z" fill="#3a7fbf"/>
<path d="M1384.6,1101.5 L1404.6,1100.2 L1405.8,1107.8 L1435.9,1107.8 L1435.9,1137.8 L1423.4,1142.8 L1422.1,1162.8 L1417.1,1164.1 L1403.3,1167.9 L1374.5,1166.6 L1373.3,1129.0 L1383.3,1127.8Z" fill="#c9c6c2"/>
<path d="M1417.7,977.6 L1447.7,973.8 L1450.2,977.6 L1472.8,981.3 L1485.3,990.1 L1495.3,1000.1 L1502.8,1015.1 L1514.1,1027.6 L1510.3,1045.2 L1505.3,1057.7 L1505.3,1080.2 L1507.8,1100.2 L1512.8,1120.3 L1517.8,1137.8 L1490.3,1137.8 L1489.0,1125.3 L1475.3,1124.8 L1472.8,1132.8 L1469.0,1132.8 L1469.0,1119.0 L1477.8,1116.5 L1476.5,1095.2 L1436.5,1099.0 L1435.2,1107.8 L1405.2,1107.8 L1403.9,1100.2 L1386.4,1100.2 L1386.4,1053.9 L1403.9,1055.2 L1407.7,1052.7 L1422.7,1051.4 L1422.7,1028.9 L1405.2,1027.6 L1405.2,1001.3 L1416.4,1000.1Z" fill="#f4954a"/>
<path d="M1540.4,980.1 L1552.9,980.1 L1565.4,986.3 L1575.4,993.8 L1582.9,997.6 L1590.5,1012.6 L1628.0,1013.9 L1635.5,1025.1 L1634.3,1037.2 L1596.7,1038.2 L1595.5,1075.2 L1585.4,1085.2 L1582.9,1090.2 L1575.4,1095.2 L1560.4,1105.3 L1547.9,1117.8 L1537.9,1130.3 L1531.6,1146.6 L1526.6,1145.3 L1519.1,1137.8 L1512.8,1120.3 L1507.8,1100.2 L1505.3,1080.2 L1505.3,1057.7 L1510.3,1045.2 L1517.8,1027.6 L1525.3,1012.6 L1535.4,990.1Z" fill="#86b9db"/>
<path d="M1540.4,980.1 L1552.9,980.1 L1565.4,986.3 L1575.4,993.8 L1582.9,997.6 L1590.5,1012.6 L1628.0,1013.9 L1635.5,1025.1 L1634.3,1037.2 L1596.7,1038.2 L1595.5,1075.2 L1585.4,1085.2 L1582.9,1090.2 L1575.4,1095.2 L1560.4,1105.3 L1547.9,1117.8 L1537.9,1130.3 L1531.6,1146.6 L1526.6,1145.3 L1519.1,1137.8 L1512.8,1120.3 L1507.8,1100.2 L1505.3,1080.2 L1505.3,1057.7 L1510.3,1045.2 L1517.8,1027.6 L1525.3,1012.6 L1535.4,990.1Z" fill="#4f8fc6" stroke="none" opacity="0.08" filter="url(#tex)"/>
<path d="M1436.5,1099.0 L1476.5,1095.2 L1477.8,1116.5 L1469.0,1119.0 L1469.0,1132.8 L1472.8,1132.8 L1475.3,1124.8 L1489.0,1125.3 L1490.3,1137.8 L1517.8,1137.8 L1526.6,1145.3 L1530.4,1147.8 L1525.3,1157.8 L1517.8,1170.4 L1512.8,1180.4 L1509.1,1190.4 L1507.8,1205.4 L1499.1,1212.9 L1485.3,1207.9 L1467.8,1201.7 L1450.2,1200.4 L1437.7,1195.4 L1425.2,1195.4 L1411.4,1197.9 L1422.7,1177.9 L1416.4,1164.1 L1421.4,1162.8 L1422.7,1144.1 L1435.2,1140.3Z" fill="#b4d7ee"/>
<path d="M1436.5,1099.0 L1476.5,1095.2 L1477.8,1116.5 L1469.0,1119.0 L1469.0,1132.8 L1472.8,1132.8 L1475.3,1124.8 L1489.0,1125.3 L1490.3,1137.8 L1517.8,1137.8 L1526.6,1145.3 L1530.4,1147.8 L1525.3,1157.8 L1517.8,1170.4 L1512.8,1180.4 L1509.1,1190.4 L1507.8,1205.4 L1499.1,1212.9 L1485.3,1207.9 L1467.8,1201.7 L1450.2,1200.4 L1437.7,1195.4 L1425.2,1195.4 L1411.4,1197.9 L1422.7,1177.9 L1416.4,1164.1 L1421.4,1162.8 L1422.7,1144.1 L1435.2,1140.3Z" fill="#7fb2dc" stroke="none" opacity="0.08" filter="url(#tex)"/>
<path d="M1540.4,977.6 L1547.9,967.5 L1557.9,960.0 L1562.9,960.0 L1575.4,961.3 L1587.9,965.0 L1600.5,975.1 L1613.0,983.8 L1625.5,986.3 L1635.5,988.8 L1650.5,991.3 L1670.6,990.1 L1683.1,982.6 L1690.6,975.1 L1695.6,962.5 L1700.6,962.5 L1710.6,957.5 L1713.1,960.0 L1725.7,960.0 L1733.2,965.0 L1734.4,973.8 L1734.4,982.6 L1725.7,986.3 L1720.7,997.6 L1713.1,1015.1 L1716.9,1017.6 L1716.9,1027.6 L1720.7,1037.7 L1636.8,1037.2 L1635.5,1025.1 L1628.0,1013.9 L1590.5,1012.6 L1582.9,997.6 L1575.4,993.8 L1565.4,986.3 L1552.9,980.1Z" fill="#c9c6c2"/>
<path d="M1540.4,977.6 L1547.9,967.5 L1557.9,960.0 L1562.9,960.0 L1575.4,961.3 L1587.9,965.0 L1600.5,975.1 L1613.0,983.8 L1625.5,986.3 L1635.5,988.8 L1650.5,991.3 L1670.6,990.1 L1683.1,982.6 L1690.6,975.1 L1695.6,962.5 L1700.6,962.5 L1710.6,957.5 L1713.1,960.0 L1725.7,960.0 L1733.2,965.0 L1734.4,973.8 L1734.4,982.6 L1725.7,986.3 L1720.7,997.6 L1713.1,1015.1 L1716.9,1017.6 L1716.9,1027.6 L1720.7,1037.7 L1636.8,1037.2 L1635.5,1025.1 L1628.0,1013.9 L1590.5,1012.6 L1582.9,997.6 L1575.4,993.8 L1565.4,986.3 L1552.9,980.1Z" fill="#9a9690" stroke="none" opacity="0.08" filter="url(#tex)"/>
</g>
<g stroke="#ffffff" stroke-opacity="0.9" stroke-width="2.3" fill="none" stroke-linejoin="round">
<polyline points="1412.2,458.2 1427.7,457.2 1428.2,444.7 1442.7,444.7 1443.2,462.8 1470.8,463.3 1472.3,524.1"/>
</g>
<polyline fill="none" stroke="#f4994e" stroke-width="3.2" points="1704.6,915.5 1724.2,915.5"/>
<polyline fill="none" stroke="#f4f7f9" stroke-width="2.6" stroke-linecap="round" stroke-linejoin="round" points="1409.0,1197.7 1402.7,1204.5 1397.1,1212.1 1393.3,1218.9 1390.4,1226.4 1388.3,1234.0 1385.8,1240.8"/>
<polyline fill="none" stroke="#f4f7f9" stroke-width="2" stroke-linecap="round" stroke-linejoin="round" points="1395.8,1218.9 1392.9,1226.4 1393.7,1234.0"/>
<polygon fill="#f4f7f9" points="1386.4,1193.9 1392.1,1193.3 1390.2,1197.7 1387.7,1200.8 1392.1,1202.7 1390.2,1207.7 1382.7,1208.9 1380.2,1205.8 1383.3,1202.0 1384.5,1197.7"/>
<polygon fill="#f4f7f9" points="1261.9,1007.3 1265.2,1003.7 1271.5,1003.7 1274.2,1008.2 1278.8,1006.4 1277.9,1011.8 1270.6,1015.4 1265.2,1013.6"/>
<g fill="none" stroke="#b4d7ee" stroke-width="2" stroke-linecap="round" stroke-linejoin="round" opacity="0.9">
<polyline points="1413.3,1200.8 1424.0,1197.7 1432.7,1193.9 1436.5,1202.7 1440.2,1210.2 1447.8,1213.9 1449.0,1218.9 1442.7,1218.9"/>
<polyline points="1414.0,1206.4 1425.2,1202.7 1431.5,1198.9"/>
<polyline stroke-width="1" points="1415.2,1216.4 1437.7,1207.7"/>
</g>
<text x="1335.23" y="830.56" font-size="21.56" textLength="127.36" lengthAdjust="spacingAndGlyphs" fill="#161616" stroke="#161616" stroke-width="1.47" stroke-linejoin="round" >HOLLYWOOD</text>
<text x="1469.39" y="855.56" font-size="21.56" textLength="96.75" lengthAdjust="spacingAndGlyphs" fill="#161616" stroke="#161616" stroke-width="1.47" stroke-linejoin="round" >CNYMION</text>
<text x="1278.23" y="901.87" font-size="21.56" textLength="126.85" lengthAdjust="spacingAndGlyphs" fill="#161616" stroke="#161616" stroke-width="1.47" stroke-linejoin="round" >HOLLYWOOD</text>
<text x="1411.19" y="961.87" font-size="21.56" textLength="124.42" lengthAdjust="spacingAndGlyphs" fill="#161616" stroke="#161616" stroke-width="1.47" stroke-linejoin="round" >DOWNTOWN</text>
<g filter="url(#halo)"><text y="997.78" font-size="24.07" fill="#161616" stroke="#161616" stroke-width="1.64" stroke-linejoin="round"><tspan x="1062.33" textLength="68.68" lengthAdjust="spacingAndGlyphs">SANTA</tspan> <tspan x="1137.72" textLength="84.81" lengthAdjust="spacingAndGlyphs">MONICA</tspan></text></g>
</svg></body></html>
